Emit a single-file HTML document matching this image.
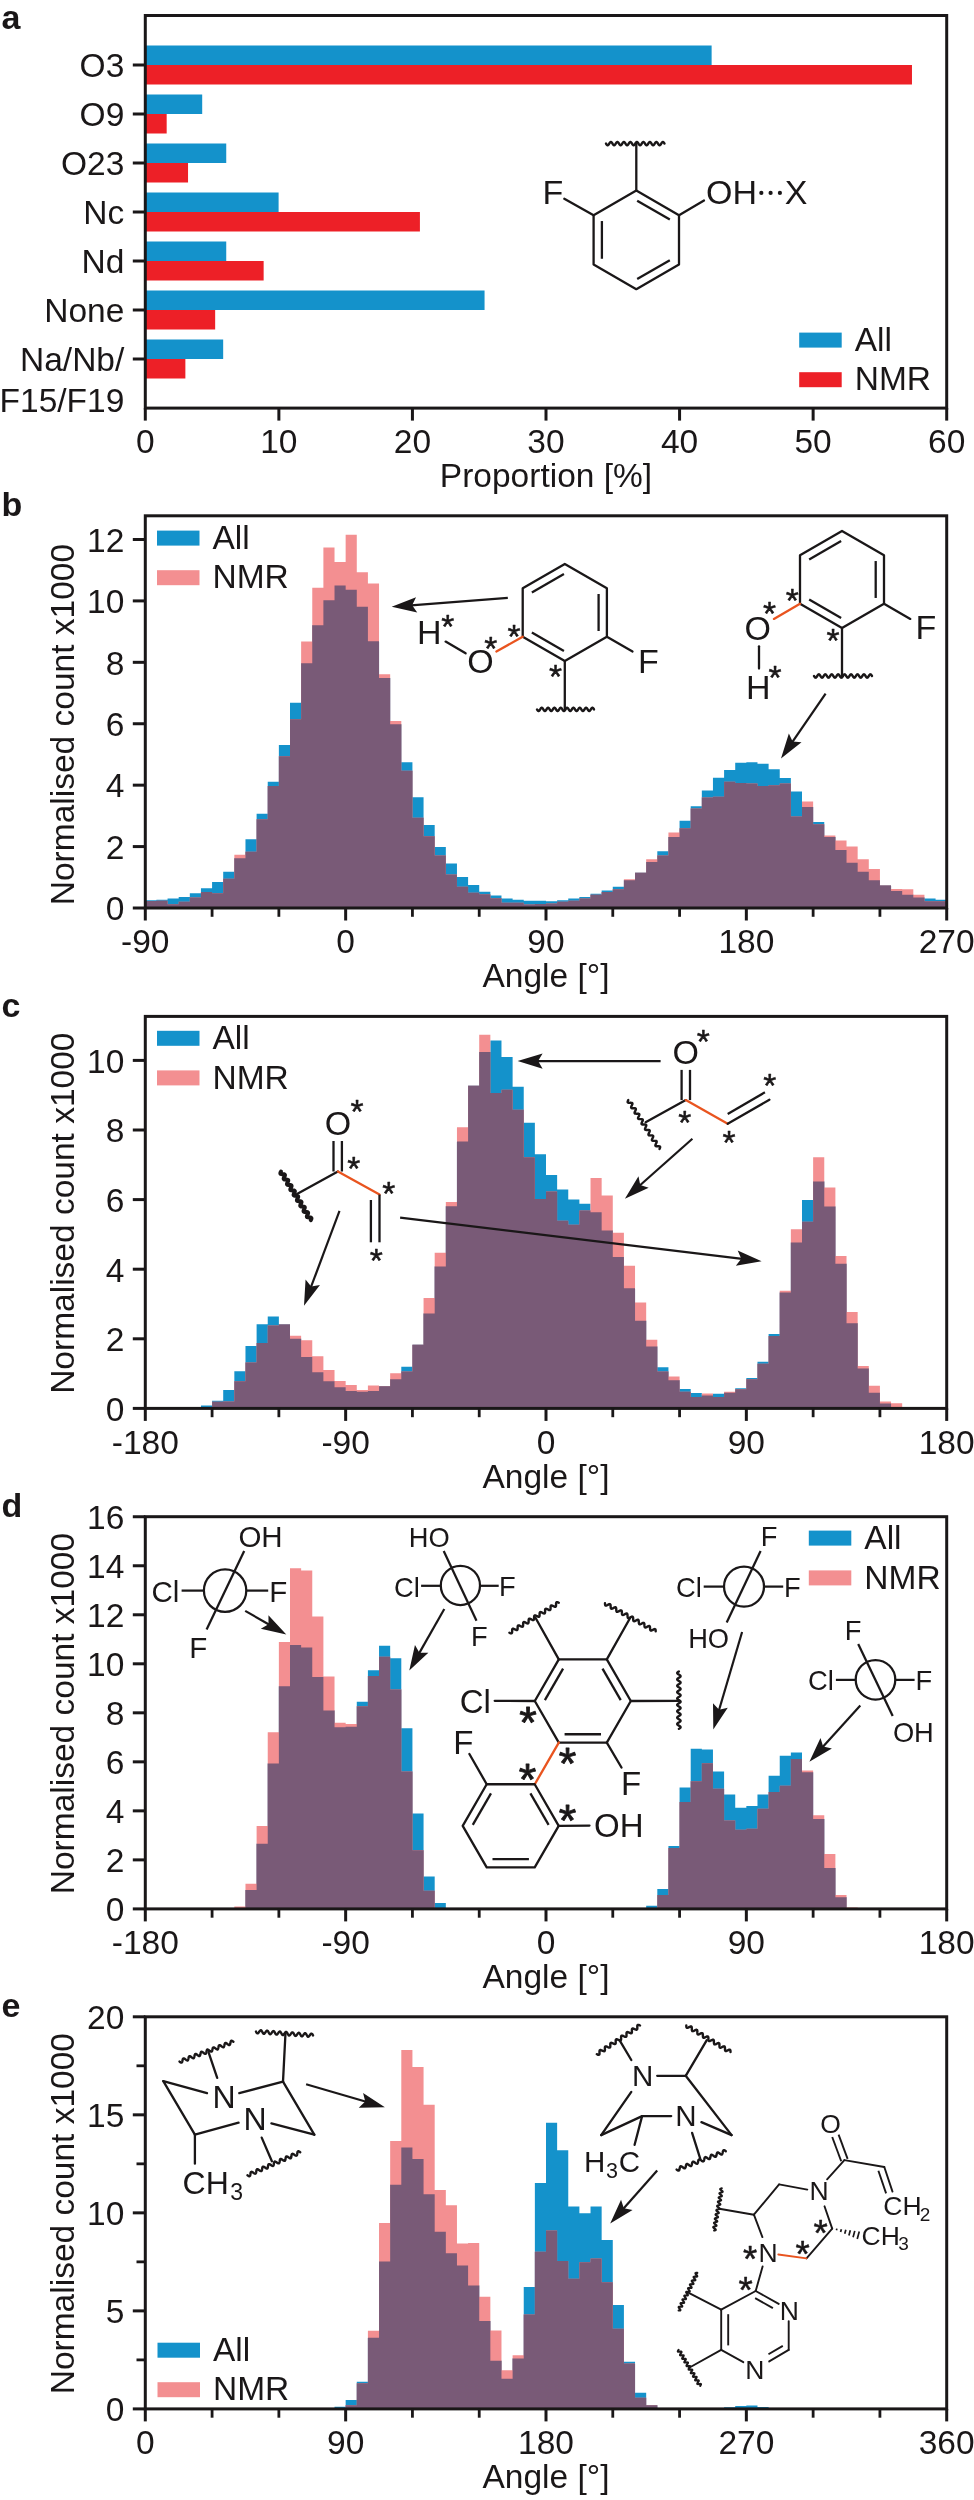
<!DOCTYPE html>
<html><head><meta charset="utf-8"><title>figure</title>
<style>html,body{margin:0;padding:0;background:#fff}svg{display:block;will-change:transform}text{font-family:"Liberation Sans",sans-serif;fill:#1a1718}</style>
</head><body>
<svg width="974" height="2500" viewBox="0 0 974 2500">
<rect width="974" height="2500" fill="#fff"/>
<rect x="145.3" y="45.50" width="566.32" height="19.5" fill="#1492cb"/>
<rect x="145.3" y="65.00" width="766.67" height="19.5" fill="#ed2027"/>
<rect x="145.3" y="94.50" width="56.90" height="19.5" fill="#1492cb"/>
<rect x="145.3" y="114.00" width="21.37" height="19.5" fill="#ed2027"/>
<rect x="145.3" y="143.50" width="80.94" height="19.5" fill="#1492cb"/>
<rect x="145.3" y="163.00" width="42.74" height="19.5" fill="#ed2027"/>
<rect x="145.3" y="192.50" width="133.30" height="19.5" fill="#1492cb"/>
<rect x="145.3" y="212.00" width="274.61" height="19.5" fill="#ed2027"/>
<rect x="145.3" y="241.50" width="80.94" height="19.5" fill="#1492cb"/>
<rect x="145.3" y="261.00" width="118.34" height="19.5" fill="#ed2027"/>
<rect x="145.3" y="290.50" width="339.26" height="19.5" fill="#1492cb"/>
<rect x="145.3" y="310.00" width="69.86" height="19.5" fill="#ed2027"/>
<rect x="145.3" y="339.50" width="77.87" height="19.5" fill="#1492cb"/>
<rect x="145.3" y="359.00" width="40.07" height="19.5" fill="#ed2027"/>
<rect x="145.3" y="15.5" width="801.4000000000001" height="392.6" fill="none" stroke="#1a1718" stroke-width="3.0"/>
<line x1="132.80" y1="65.00" x2="145.30" y2="65.00" stroke="#1a1718" stroke-width="3.0" stroke-linecap="butt"/>
<text x="124.30" y="77.30" font-size="33.5" text-anchor="end" font-weight="normal" >O3</text>
<line x1="132.80" y1="114.00" x2="145.30" y2="114.00" stroke="#1a1718" stroke-width="3.0" stroke-linecap="butt"/>
<text x="124.30" y="126.30" font-size="33.5" text-anchor="end" font-weight="normal" >O9</text>
<line x1="132.80" y1="163.00" x2="145.30" y2="163.00" stroke="#1a1718" stroke-width="3.0" stroke-linecap="butt"/>
<text x="124.30" y="175.30" font-size="33.5" text-anchor="end" font-weight="normal" >O23</text>
<line x1="132.80" y1="212.00" x2="145.30" y2="212.00" stroke="#1a1718" stroke-width="3.0" stroke-linecap="butt"/>
<text x="124.30" y="224.30" font-size="33.5" text-anchor="end" font-weight="normal" >Nc</text>
<line x1="132.80" y1="261.00" x2="145.30" y2="261.00" stroke="#1a1718" stroke-width="3.0" stroke-linecap="butt"/>
<text x="124.30" y="273.30" font-size="33.5" text-anchor="end" font-weight="normal" >Nd</text>
<line x1="132.80" y1="310.00" x2="145.30" y2="310.00" stroke="#1a1718" stroke-width="3.0" stroke-linecap="butt"/>
<text x="124.30" y="322.30" font-size="33.5" text-anchor="end" font-weight="normal" >None</text>
<line x1="132.80" y1="359.00" x2="145.30" y2="359.00" stroke="#1a1718" stroke-width="3.0" stroke-linecap="butt"/>
<text x="124.30" y="371.30" font-size="33.5" text-anchor="end" font-weight="normal" >Na/Nb/</text>
<text x="124.30" y="411.60" font-size="33.5" text-anchor="end" font-weight="normal" >F15/F19</text>
<line x1="145.30" y1="408.10" x2="145.30" y2="420.60" stroke="#1a1718" stroke-width="3.0" stroke-linecap="butt"/>
<text x="145.30" y="453.30" font-size="33.5" text-anchor="middle" font-weight="normal" >0</text>
<line x1="278.87" y1="408.10" x2="278.87" y2="420.60" stroke="#1a1718" stroke-width="3.0" stroke-linecap="butt"/>
<text x="278.87" y="453.30" font-size="33.5" text-anchor="middle" font-weight="normal" >10</text>
<line x1="412.43" y1="408.10" x2="412.43" y2="420.60" stroke="#1a1718" stroke-width="3.0" stroke-linecap="butt"/>
<text x="412.43" y="453.30" font-size="33.5" text-anchor="middle" font-weight="normal" >20</text>
<line x1="546.00" y1="408.10" x2="546.00" y2="420.60" stroke="#1a1718" stroke-width="3.0" stroke-linecap="butt"/>
<text x="546.00" y="453.30" font-size="33.5" text-anchor="middle" font-weight="normal" >30</text>
<line x1="679.57" y1="408.10" x2="679.57" y2="420.60" stroke="#1a1718" stroke-width="3.0" stroke-linecap="butt"/>
<text x="679.57" y="453.30" font-size="33.5" text-anchor="middle" font-weight="normal" >40</text>
<line x1="813.13" y1="408.10" x2="813.13" y2="420.60" stroke="#1a1718" stroke-width="3.0" stroke-linecap="butt"/>
<text x="813.13" y="453.30" font-size="33.5" text-anchor="middle" font-weight="normal" >50</text>
<line x1="946.70" y1="408.10" x2="946.70" y2="420.60" stroke="#1a1718" stroke-width="3.0" stroke-linecap="butt"/>
<text x="946.70" y="453.30" font-size="33.5" text-anchor="middle" font-weight="normal" >60</text>
<text x="546.00" y="487.00" font-size="33.5" text-anchor="middle" font-weight="normal" >Proportion [%]</text>
<text x="1.50" y="28.70" font-size="34" text-anchor="start" font-weight="bold" >a</text>
<rect x="799.2" y="332.6" width="42.5" height="15" fill="#1492cb"/>
<rect x="799.2" y="372.2" width="42.5" height="15" fill="#ed2027"/>
<text x="854.70" y="350.80" font-size="33.5" text-anchor="start" font-weight="normal" >All</text>
<text x="854.70" y="390.40" font-size="33.5" text-anchor="start" font-weight="normal" >NMR</text>
<path d="M145.30,908.00L145.30,900.32L156.43,900.32L156.43,899.71L167.56,899.71L167.56,898.48L178.69,898.48L178.69,896.94L189.82,896.94L189.82,893.26L200.95,893.26L200.95,888.35L212.08,888.35L212.08,881.90L223.21,881.90L223.21,871.76L234.34,871.76L234.34,858.25L245.48,858.25L245.48,839.21L256.61,839.21L256.61,813.72L267.74,813.72L267.74,781.78L278.87,781.78L278.87,744.93L290.00,744.93L290.00,702.86L301.13,702.86L301.13,663.24L312.26,663.24L312.26,625.16L323.39,625.16L323.39,600.29L334.52,600.29L334.52,585.55L345.65,585.55L345.65,589.84L356.78,589.84L356.78,606.73L367.91,606.73L367.91,641.13L379.04,641.13L379.04,677.98L390.17,677.98L390.17,724.35L401.30,724.35L401.30,762.13L412.43,762.13L412.43,797.14L423.56,797.14L423.56,825.08L434.69,825.08L434.69,846.89L445.83,846.89L445.83,863.47L456.96,863.47L456.96,876.98L468.09,876.98L468.09,884.97L479.22,884.97L479.22,891.72L490.35,891.72L490.35,895.41L501.48,895.41L501.48,898.48L512.61,898.48L512.61,899.71L523.74,899.71L523.74,900.63L534.87,900.63L534.87,900.63L546.00,900.63L546.00,901.24L557.13,901.24L557.13,900.32L568.26,900.32L568.26,898.48L579.39,898.48L579.39,896.94L590.52,896.94L590.52,893.87L601.65,893.87L601.65,890.50L612.78,890.50L612.78,886.81L623.91,886.81L623.91,880.36L635.04,880.36L635.04,872.68L646.18,872.68L646.18,861.93L657.31,861.93L657.31,851.19L668.44,851.19L668.44,837.06L679.57,837.06L679.57,820.78L690.70,820.78L690.70,806.35L701.83,806.35L701.83,790.38L712.96,790.38L712.96,777.79L724.09,777.79L724.09,770.11L735.22,770.11L735.22,762.74L746.35,762.74L746.35,762.13L757.48,762.13L757.48,763.66L768.61,763.66L768.61,769.19L779.74,769.19L779.74,778.10L790.87,778.10L790.87,791.61L802.00,791.61L802.00,806.96L813.13,806.96L813.13,822.01L824.26,822.01L824.26,837.06L835.39,837.06L835.39,849.96L846.53,849.96L846.53,862.86L857.66,862.86L857.66,871.76L868.79,871.76L868.79,880.36L879.92,880.36L879.92,885.58L891.05,885.58L891.05,891.11L902.18,891.11L902.18,894.79L913.31,894.79L913.31,897.56L924.44,897.56L924.44,898.48L935.57,898.48L935.57,899.71L946.70,899.71L946.70,908.00Z" fill="#1492cb" fill-opacity="1"/>
<path d="M145.30,908.00L145.30,900.94L156.43,900.94L156.43,900.63L167.56,900.63L167.56,904.31L178.69,904.31L178.69,901.86L189.82,901.86L189.82,897.56L200.95,897.56L200.95,892.03L212.08,892.03L212.08,893.26L223.21,893.26L223.21,878.83L234.34,878.83L234.34,854.87L245.48,854.87L245.48,851.80L256.61,851.80L256.61,819.25L267.74,819.25L267.74,786.08L278.87,786.08L278.87,756.29L290.00,756.29L290.00,719.13L301.13,719.13L301.13,641.44L312.26,641.44L312.26,587.69L323.39,587.69L323.39,547.46L334.52,547.46L334.52,561.90L345.65,561.90L345.65,534.87L356.78,534.87L356.78,572.34L367.91,572.34L367.91,583.40L379.04,583.40L379.04,674.30L390.17,674.30L390.17,720.98L401.30,720.98L401.30,770.73L412.43,770.73L412.43,817.71L423.56,817.71L423.56,836.14L434.69,836.14L434.69,855.49L445.83,855.49L445.83,874.53L456.96,874.53L456.96,886.81L468.09,886.81L468.09,892.64L479.22,892.64L479.22,894.18L490.35,894.18L490.35,898.17L501.48,898.17L501.48,902.78L512.61,902.78L512.61,902.78L523.74,902.78L523.74,904.62L534.87,904.62L534.87,904.01L546.00,904.01L546.00,903.39L557.13,903.39L557.13,901.86L568.26,901.86L568.26,900.63L579.39,900.63L579.39,898.48L590.52,898.48L590.52,894.79L601.65,894.79L601.65,892.03L612.78,892.03L612.78,889.27L623.91,889.27L623.91,879.13L635.04,879.13L635.04,872.68L646.18,872.68L646.18,859.17L657.31,859.17L657.31,855.49L668.44,855.49L668.44,832.45L679.57,832.45L679.57,828.15L690.70,828.15L690.70,808.50L701.83,808.50L701.83,797.44L712.96,797.44L712.96,796.83L724.09,796.83L724.09,781.78L735.22,781.78L735.22,783.01L746.35,783.01L746.35,783.62L757.48,783.62L757.48,786.08L768.61,786.08L768.61,785.16L779.74,785.16L779.74,783.62L790.87,783.62L790.87,816.48L802.00,816.48L802.00,801.44L813.13,801.44L813.13,824.16L824.26,824.16L824.26,835.52L835.39,835.52L835.39,840.44L846.53,840.44L846.53,846.58L857.66,846.58L857.66,859.17L868.79,859.17L868.79,869.00L879.92,869.00L879.92,885.58L891.05,885.58L891.05,888.96L902.18,888.96L902.18,889.27L913.31,889.27L913.31,894.79L924.44,894.79L924.44,901.24L935.57,901.24L935.57,901.24L946.70,901.24L946.70,908.00Z" fill="#f38f91" fill-opacity="1"/>
<path d="M145.30,908.00L145.30,900.94L156.43,900.94L156.43,900.63L167.56,900.63L167.56,904.31L178.69,904.31L178.69,901.86L189.82,901.86L189.82,897.56L200.95,897.56L200.95,892.03L212.08,892.03L212.08,893.26L223.21,893.26L223.21,878.83L234.34,878.83L234.34,858.25L245.48,858.25L245.48,851.80L256.61,851.80L256.61,819.25L267.74,819.25L267.74,786.08L278.87,786.08L278.87,756.29L290.00,756.29L290.00,719.13L301.13,719.13L301.13,663.24L312.26,663.24L312.26,625.16L323.39,625.16L323.39,600.29L334.52,600.29L334.52,585.55L345.65,585.55L345.65,589.84L356.78,589.84L356.78,606.73L367.91,606.73L367.91,641.13L379.04,641.13L379.04,677.98L390.17,677.98L390.17,724.35L401.30,724.35L401.30,770.73L412.43,770.73L412.43,817.71L423.56,817.71L423.56,836.14L434.69,836.14L434.69,855.49L445.83,855.49L445.83,874.53L456.96,874.53L456.96,886.81L468.09,886.81L468.09,892.64L479.22,892.64L479.22,894.18L490.35,894.18L490.35,898.17L501.48,898.17L501.48,902.78L512.61,902.78L512.61,902.78L523.74,902.78L523.74,904.62L534.87,904.62L534.87,904.01L546.00,904.01L546.00,903.39L557.13,903.39L557.13,901.86L568.26,901.86L568.26,900.63L579.39,900.63L579.39,898.48L590.52,898.48L590.52,894.79L601.65,894.79L601.65,892.03L612.78,892.03L612.78,889.27L623.91,889.27L623.91,880.36L635.04,880.36L635.04,872.68L646.18,872.68L646.18,861.93L657.31,861.93L657.31,855.49L668.44,855.49L668.44,837.06L679.57,837.06L679.57,828.15L690.70,828.15L690.70,808.50L701.83,808.50L701.83,797.44L712.96,797.44L712.96,796.83L724.09,796.83L724.09,781.78L735.22,781.78L735.22,783.01L746.35,783.01L746.35,783.62L757.48,783.62L757.48,786.08L768.61,786.08L768.61,785.16L779.74,785.16L779.74,783.62L790.87,783.62L790.87,816.48L802.00,816.48L802.00,806.96L813.13,806.96L813.13,824.16L824.26,824.16L824.26,837.06L835.39,837.06L835.39,849.96L846.53,849.96L846.53,862.86L857.66,862.86L857.66,871.76L868.79,871.76L868.79,880.36L879.92,880.36L879.92,885.58L891.05,885.58L891.05,891.11L902.18,891.11L902.18,894.79L913.31,894.79L913.31,897.56L924.44,897.56L924.44,901.24L935.57,901.24L935.57,901.24L946.70,901.24L946.70,908.00Z" fill="#795a77" fill-opacity="1"/>
<rect x="145.3" y="515.8" width="801.4000000000001" height="392.20000000000005" fill="none" stroke="#1a1718" stroke-width="3.0"/>
<line x1="132.80" y1="908.00" x2="145.30" y2="908.00" stroke="#1a1718" stroke-width="3.0" stroke-linecap="butt"/>
<text x="124.30" y="920.30" font-size="33.5" text-anchor="end" font-weight="normal" >0</text>
<line x1="132.80" y1="846.58" x2="145.30" y2="846.58" stroke="#1a1718" stroke-width="3.0" stroke-linecap="butt"/>
<text x="124.30" y="858.88" font-size="33.5" text-anchor="end" font-weight="normal" >2</text>
<line x1="132.80" y1="785.16" x2="145.30" y2="785.16" stroke="#1a1718" stroke-width="3.0" stroke-linecap="butt"/>
<text x="124.30" y="797.46" font-size="33.5" text-anchor="end" font-weight="normal" >4</text>
<line x1="132.80" y1="723.74" x2="145.30" y2="723.74" stroke="#1a1718" stroke-width="3.0" stroke-linecap="butt"/>
<text x="124.30" y="736.04" font-size="33.5" text-anchor="end" font-weight="normal" >6</text>
<line x1="132.80" y1="662.32" x2="145.30" y2="662.32" stroke="#1a1718" stroke-width="3.0" stroke-linecap="butt"/>
<text x="124.30" y="674.62" font-size="33.5" text-anchor="end" font-weight="normal" >8</text>
<line x1="132.80" y1="600.90" x2="145.30" y2="600.90" stroke="#1a1718" stroke-width="3.0" stroke-linecap="butt"/>
<text x="124.30" y="613.20" font-size="33.5" text-anchor="end" font-weight="normal" >10</text>
<line x1="132.80" y1="539.48" x2="145.30" y2="539.48" stroke="#1a1718" stroke-width="3.0" stroke-linecap="butt"/>
<text x="124.30" y="551.78" font-size="33.5" text-anchor="end" font-weight="normal" >12</text>
<line x1="145.30" y1="908.00" x2="145.30" y2="920.50" stroke="#1a1718" stroke-width="3.0" stroke-linecap="butt"/>
<text x="145.30" y="953.20" font-size="33.5" text-anchor="middle" font-weight="normal" >-90</text>
<line x1="345.65" y1="908.00" x2="345.65" y2="920.50" stroke="#1a1718" stroke-width="3.0" stroke-linecap="butt"/>
<text x="345.65" y="953.20" font-size="33.5" text-anchor="middle" font-weight="normal" >0</text>
<line x1="546.00" y1="908.00" x2="546.00" y2="920.50" stroke="#1a1718" stroke-width="3.0" stroke-linecap="butt"/>
<text x="546.00" y="953.20" font-size="33.5" text-anchor="middle" font-weight="normal" >90</text>
<line x1="746.35" y1="908.00" x2="746.35" y2="920.50" stroke="#1a1718" stroke-width="3.0" stroke-linecap="butt"/>
<text x="746.35" y="953.20" font-size="33.5" text-anchor="middle" font-weight="normal" >180</text>
<line x1="946.70" y1="908.00" x2="946.70" y2="920.50" stroke="#1a1718" stroke-width="3.0" stroke-linecap="butt"/>
<text x="946.70" y="953.20" font-size="33.5" text-anchor="middle" font-weight="normal" >270</text>
<line x1="212.08" y1="908.00" x2="212.08" y2="916.80" stroke="#1a1718" stroke-width="2.8" stroke-linecap="butt"/>
<line x1="278.87" y1="908.00" x2="278.87" y2="916.80" stroke="#1a1718" stroke-width="2.8" stroke-linecap="butt"/>
<line x1="412.43" y1="908.00" x2="412.43" y2="916.80" stroke="#1a1718" stroke-width="2.8" stroke-linecap="butt"/>
<line x1="479.22" y1="908.00" x2="479.22" y2="916.80" stroke="#1a1718" stroke-width="2.8" stroke-linecap="butt"/>
<line x1="612.78" y1="908.00" x2="612.78" y2="916.80" stroke="#1a1718" stroke-width="2.8" stroke-linecap="butt"/>
<line x1="679.57" y1="908.00" x2="679.57" y2="916.80" stroke="#1a1718" stroke-width="2.8" stroke-linecap="butt"/>
<line x1="813.13" y1="908.00" x2="813.13" y2="916.80" stroke="#1a1718" stroke-width="2.8" stroke-linecap="butt"/>
<line x1="879.92" y1="908.00" x2="879.92" y2="916.80" stroke="#1a1718" stroke-width="2.8" stroke-linecap="butt"/>
<text x="546.00" y="987.20" font-size="33.5" text-anchor="middle" font-weight="normal" >Angle [°]</text>
<text x="0.00" y="0.00" font-size="33.5" text-anchor="middle" font-weight="normal" transform="translate(74,724.6) rotate(-90)">Normalised count x1000</text>
<text x="1.50" y="516.00" font-size="34" text-anchor="start" font-weight="bold" >b</text>
<rect x="157" y="530.6" width="42.5" height="15" fill="#1492cb"/>
<rect x="157" y="570.2" width="42.5" height="15" fill="#f38f91"/>
<text x="212.50" y="548.80" font-size="33.5" text-anchor="start" font-weight="normal" >All</text>
<text x="212.50" y="588.40" font-size="33.5" text-anchor="start" font-weight="normal" >NMR</text>
<path d="M145.30,1408.40L145.30,1408.40L156.43,1408.40L156.43,1408.40L167.56,1408.40L167.56,1408.40L178.69,1408.40L178.69,1408.40L189.82,1408.40L189.82,1408.40L200.95,1408.40L200.95,1405.62L212.08,1405.62L212.08,1400.74L223.21,1400.74L223.21,1389.96L234.34,1389.96L234.34,1371.16L245.48,1371.16L245.48,1346.11L256.61,1346.11L256.61,1324.18L267.74,1324.18L267.74,1316.53L278.87,1316.53L278.87,1324.18L290.00,1324.18L290.00,1338.80L301.13,1338.80L301.13,1356.90L312.26,1356.90L312.26,1372.21L323.39,1372.21L323.39,1381.26L334.52,1381.26L334.52,1387.17L345.65,1387.17L345.65,1391.00L356.78,1391.00L356.78,1391.70L367.91,1391.70L367.91,1391.00L379.04,1391.00L379.04,1386.13L390.17,1386.13L390.17,1379.17L401.30,1379.17L401.30,1366.64L412.43,1366.64L412.43,1344.72L423.56,1344.72L423.56,1313.40L434.69,1313.40L434.69,1266.42L445.83,1266.42L445.83,1206.21L456.96,1206.21L456.96,1141.48L468.09,1141.48L468.09,1085.80L479.22,1085.80L479.22,1052.05L490.35,1052.05L490.35,1040.56L501.48,1040.56L501.48,1056.92L512.61,1056.92L512.61,1086.85L523.74,1086.85L523.74,1122.69L534.87,1122.69L534.87,1154.36L546.00,1154.36L546.00,1174.89L557.13,1174.89L557.13,1189.51L568.26,1189.51L568.26,1199.60L579.39,1199.60L579.39,1203.78L590.52,1203.78L590.52,1212.13L601.65,1212.13L601.65,1230.57L612.78,1230.57L612.78,1257.02L623.91,1257.02L623.91,1288.34L635.04,1288.34L635.04,1320.70L646.18,1320.70L646.18,1346.46L657.31,1346.46L657.31,1367.34L668.44,1367.34L668.44,1380.21L679.57,1380.21L679.57,1388.91L690.70,1388.91L690.70,1393.09L701.83,1393.09L701.83,1395.52L712.96,1395.52L712.96,1393.78L724.09,1393.78L724.09,1392.74L735.22,1392.74L735.22,1388.22L746.35,1388.22L746.35,1378.12L757.48,1378.12L757.48,1361.77L768.61,1361.77L768.61,1333.93L779.74,1333.93L779.74,1292.52L790.87,1292.52L790.87,1242.40L802.00,1242.40L802.00,1199.95L813.13,1199.95L813.13,1181.50L824.26,1181.50L824.26,1206.56L835.39,1206.56L835.39,1263.63L846.53,1263.63L846.53,1323.14L857.66,1323.14L857.66,1368.38L868.79,1368.38L868.79,1392.74L879.92,1392.74L879.92,1403.53L891.05,1403.53L891.05,1407.70L902.18,1407.70L902.18,1408.40L913.31,1408.40L913.31,1408.40L924.44,1408.40L924.44,1408.40L935.57,1408.40L935.57,1408.40L946.70,1408.40L946.70,1408.40Z" fill="#1492cb" fill-opacity="1"/>
<path d="M145.30,1408.40L145.30,1408.40L156.43,1408.40L156.43,1408.40L167.56,1408.40L167.56,1408.40L178.69,1408.40L178.69,1408.40L189.82,1408.40L189.82,1408.40L200.95,1408.40L200.95,1408.40L212.08,1408.40L212.08,1401.79L223.21,1401.79L223.21,1401.44L234.34,1401.44L234.34,1381.26L245.48,1381.26L245.48,1362.46L256.61,1362.46L256.61,1342.98L267.74,1342.98L267.74,1325.58L278.87,1325.58L278.87,1324.53L290.00,1324.53L290.00,1335.67L301.13,1335.67L301.13,1340.19L312.26,1340.19L312.26,1356.20L323.39,1356.20L323.39,1370.12L334.52,1370.12L334.52,1380.91L345.65,1380.91L345.65,1385.08L356.78,1385.08L356.78,1389.96L367.91,1389.96L367.91,1385.43L379.04,1385.43L379.04,1386.13L390.17,1386.13L390.17,1373.25L401.30,1373.25L401.30,1371.51L412.43,1371.51L412.43,1344.72L423.56,1344.72L423.56,1298.08L434.69,1298.08L434.69,1252.84L445.83,1252.84L445.83,1202.04L456.96,1202.04L456.96,1127.22L468.09,1127.22L468.09,1085.80L479.22,1085.80L479.22,1034.65L490.35,1034.65L490.35,1093.11L501.48,1093.11L501.48,1089.63L512.61,1089.63L512.61,1109.82L523.74,1109.82L523.74,1157.14L534.87,1157.14L534.87,1198.90L546.00,1198.90L546.00,1191.60L557.13,1191.60L557.13,1220.83L568.26,1220.83L568.26,1224.66L579.39,1224.66L579.39,1210.39L590.52,1210.39L590.52,1178.02L601.65,1178.02L601.65,1195.42L612.78,1195.42L612.78,1232.66L623.91,1232.66L623.91,1265.72L635.04,1265.72L635.04,1302.61L646.18,1302.61L646.18,1339.84L657.31,1339.84L657.31,1371.51L668.44,1371.51L668.44,1376.38L679.57,1376.38L679.57,1391.70L690.70,1391.70L690.70,1396.92L701.83,1396.92L701.83,1393.44L712.96,1393.44L712.96,1396.92L724.09,1396.92L724.09,1391.70L735.22,1391.70L735.22,1389.26L746.35,1389.26L746.35,1379.17L757.48,1379.17L757.48,1363.86L768.61,1363.86L768.61,1336.02L779.74,1336.02L779.74,1290.78L790.87,1290.78L790.87,1229.18L802.00,1229.18L802.00,1221.87L813.13,1221.87L813.13,1157.14L824.26,1157.14L824.26,1187.42L835.39,1187.42L835.39,1255.98L846.53,1255.98L846.53,1312.00L857.66,1312.00L857.66,1365.94L868.79,1365.94L868.79,1385.78L879.92,1385.78L879.92,1401.44L891.05,1401.44L891.05,1403.18L902.18,1403.18L902.18,1408.40L913.31,1408.40L913.31,1408.40L924.44,1408.40L924.44,1408.40L935.57,1408.40L935.57,1408.40L946.70,1408.40L946.70,1408.40Z" fill="#f38f91" fill-opacity="1"/>
<path d="M145.30,1408.40L145.30,1408.40L156.43,1408.40L156.43,1408.40L167.56,1408.40L167.56,1408.40L178.69,1408.40L178.69,1408.40L189.82,1408.40L189.82,1408.40L200.95,1408.40L200.95,1408.40L212.08,1408.40L212.08,1401.79L223.21,1401.79L223.21,1401.44L234.34,1401.44L234.34,1381.26L245.48,1381.26L245.48,1362.46L256.61,1362.46L256.61,1342.98L267.74,1342.98L267.74,1325.58L278.87,1325.58L278.87,1324.53L290.00,1324.53L290.00,1338.80L301.13,1338.80L301.13,1356.90L312.26,1356.90L312.26,1372.21L323.39,1372.21L323.39,1381.26L334.52,1381.26L334.52,1387.17L345.65,1387.17L345.65,1391.00L356.78,1391.00L356.78,1391.70L367.91,1391.70L367.91,1391.00L379.04,1391.00L379.04,1386.13L390.17,1386.13L390.17,1379.17L401.30,1379.17L401.30,1371.51L412.43,1371.51L412.43,1344.72L423.56,1344.72L423.56,1313.40L434.69,1313.40L434.69,1266.42L445.83,1266.42L445.83,1206.21L456.96,1206.21L456.96,1141.48L468.09,1141.48L468.09,1085.80L479.22,1085.80L479.22,1052.05L490.35,1052.05L490.35,1093.11L501.48,1093.11L501.48,1089.63L512.61,1089.63L512.61,1109.82L523.74,1109.82L523.74,1157.14L534.87,1157.14L534.87,1198.90L546.00,1198.90L546.00,1191.60L557.13,1191.60L557.13,1220.83L568.26,1220.83L568.26,1224.66L579.39,1224.66L579.39,1210.39L590.52,1210.39L590.52,1212.13L601.65,1212.13L601.65,1230.57L612.78,1230.57L612.78,1257.02L623.91,1257.02L623.91,1288.34L635.04,1288.34L635.04,1320.70L646.18,1320.70L646.18,1346.46L657.31,1346.46L657.31,1371.51L668.44,1371.51L668.44,1380.21L679.57,1380.21L679.57,1391.70L690.70,1391.70L690.70,1396.92L701.83,1396.92L701.83,1395.52L712.96,1395.52L712.96,1396.92L724.09,1396.92L724.09,1392.74L735.22,1392.74L735.22,1389.26L746.35,1389.26L746.35,1379.17L757.48,1379.17L757.48,1363.86L768.61,1363.86L768.61,1336.02L779.74,1336.02L779.74,1292.52L790.87,1292.52L790.87,1242.40L802.00,1242.40L802.00,1221.87L813.13,1221.87L813.13,1181.50L824.26,1181.50L824.26,1206.56L835.39,1206.56L835.39,1263.63L846.53,1263.63L846.53,1323.14L857.66,1323.14L857.66,1368.38L868.79,1368.38L868.79,1392.74L879.92,1392.74L879.92,1403.53L891.05,1403.53L891.05,1407.70L902.18,1407.70L902.18,1408.40L913.31,1408.40L913.31,1408.40L924.44,1408.40L924.44,1408.40L935.57,1408.40L935.57,1408.40L946.70,1408.40L946.70,1408.40Z" fill="#795a77" fill-opacity="1"/>
<rect x="145.3" y="1016.4" width="801.4000000000001" height="392.0000000000001" fill="none" stroke="#1a1718" stroke-width="3.0"/>
<line x1="132.80" y1="1408.40" x2="145.30" y2="1408.40" stroke="#1a1718" stroke-width="3.0" stroke-linecap="butt"/>
<text x="124.30" y="1420.70" font-size="33.5" text-anchor="end" font-weight="normal" >0</text>
<line x1="132.80" y1="1338.80" x2="145.30" y2="1338.80" stroke="#1a1718" stroke-width="3.0" stroke-linecap="butt"/>
<text x="124.30" y="1351.10" font-size="33.5" text-anchor="end" font-weight="normal" >2</text>
<line x1="132.80" y1="1269.20" x2="145.30" y2="1269.20" stroke="#1a1718" stroke-width="3.0" stroke-linecap="butt"/>
<text x="124.30" y="1281.50" font-size="33.5" text-anchor="end" font-weight="normal" >4</text>
<line x1="132.80" y1="1199.60" x2="145.30" y2="1199.60" stroke="#1a1718" stroke-width="3.0" stroke-linecap="butt"/>
<text x="124.30" y="1211.90" font-size="33.5" text-anchor="end" font-weight="normal" >6</text>
<line x1="132.80" y1="1130.00" x2="145.30" y2="1130.00" stroke="#1a1718" stroke-width="3.0" stroke-linecap="butt"/>
<text x="124.30" y="1142.30" font-size="33.5" text-anchor="end" font-weight="normal" >8</text>
<line x1="132.80" y1="1060.40" x2="145.30" y2="1060.40" stroke="#1a1718" stroke-width="3.0" stroke-linecap="butt"/>
<text x="124.30" y="1072.70" font-size="33.5" text-anchor="end" font-weight="normal" >10</text>
<line x1="145.30" y1="1408.40" x2="145.30" y2="1420.90" stroke="#1a1718" stroke-width="3.0" stroke-linecap="butt"/>
<text x="145.30" y="1453.60" font-size="33.5" text-anchor="middle" font-weight="normal" >-180</text>
<line x1="345.65" y1="1408.40" x2="345.65" y2="1420.90" stroke="#1a1718" stroke-width="3.0" stroke-linecap="butt"/>
<text x="345.65" y="1453.60" font-size="33.5" text-anchor="middle" font-weight="normal" >-90</text>
<line x1="546.00" y1="1408.40" x2="546.00" y2="1420.90" stroke="#1a1718" stroke-width="3.0" stroke-linecap="butt"/>
<text x="546.00" y="1453.60" font-size="33.5" text-anchor="middle" font-weight="normal" >0</text>
<line x1="746.35" y1="1408.40" x2="746.35" y2="1420.90" stroke="#1a1718" stroke-width="3.0" stroke-linecap="butt"/>
<text x="746.35" y="1453.60" font-size="33.5" text-anchor="middle" font-weight="normal" >90</text>
<line x1="946.70" y1="1408.40" x2="946.70" y2="1420.90" stroke="#1a1718" stroke-width="3.0" stroke-linecap="butt"/>
<text x="946.70" y="1453.60" font-size="33.5" text-anchor="middle" font-weight="normal" >180</text>
<line x1="212.08" y1="1408.40" x2="212.08" y2="1417.20" stroke="#1a1718" stroke-width="2.8" stroke-linecap="butt"/>
<line x1="278.87" y1="1408.40" x2="278.87" y2="1417.20" stroke="#1a1718" stroke-width="2.8" stroke-linecap="butt"/>
<line x1="412.43" y1="1408.40" x2="412.43" y2="1417.20" stroke="#1a1718" stroke-width="2.8" stroke-linecap="butt"/>
<line x1="479.22" y1="1408.40" x2="479.22" y2="1417.20" stroke="#1a1718" stroke-width="2.8" stroke-linecap="butt"/>
<line x1="612.78" y1="1408.40" x2="612.78" y2="1417.20" stroke="#1a1718" stroke-width="2.8" stroke-linecap="butt"/>
<line x1="679.57" y1="1408.40" x2="679.57" y2="1417.20" stroke="#1a1718" stroke-width="2.8" stroke-linecap="butt"/>
<line x1="813.13" y1="1408.40" x2="813.13" y2="1417.20" stroke="#1a1718" stroke-width="2.8" stroke-linecap="butt"/>
<line x1="879.92" y1="1408.40" x2="879.92" y2="1417.20" stroke="#1a1718" stroke-width="2.8" stroke-linecap="butt"/>
<text x="546.00" y="1487.60" font-size="33.5" text-anchor="middle" font-weight="normal" >Angle [°]</text>
<text x="0.00" y="0.00" font-size="33.5" text-anchor="middle" font-weight="normal" transform="translate(74,1213.2) rotate(-90)">Normalised count x1000</text>
<text x="1.50" y="1016.60" font-size="34" text-anchor="start" font-weight="bold" >c</text>
<rect x="157" y="1030.8" width="42.5" height="15" fill="#1492cb"/>
<rect x="157" y="1070.4" width="42.5" height="15" fill="#f38f91"/>
<text x="212.50" y="1049.00" font-size="33.5" text-anchor="start" font-weight="normal" >All</text>
<text x="212.50" y="1088.60" font-size="33.5" text-anchor="start" font-weight="normal" >NMR</text>
<path d="M145.30,1908.90L145.30,1908.90L156.43,1908.90L156.43,1908.90L167.56,1908.90L167.56,1908.90L178.69,1908.90L178.69,1908.90L189.82,1908.90L189.82,1908.90L200.95,1908.90L200.95,1908.90L212.08,1908.90L212.08,1908.90L223.21,1908.90L223.21,1908.90L234.34,1908.90L234.34,1908.16L245.48,1908.16L245.48,1890.03L256.61,1890.03L256.61,1843.70L267.74,1843.70L267.74,1763.56L278.87,1763.56L278.87,1686.35L290.00,1686.35L290.00,1644.93L301.13,1644.93L301.13,1647.38L312.26,1647.38L312.26,1677.04L323.39,1677.04L323.39,1710.61L334.52,1710.61L334.52,1727.28L345.65,1727.28L345.65,1726.79L356.78,1726.79L356.78,1701.79L367.91,1701.79L367.91,1670.17L379.04,1670.17L379.04,1645.66L390.17,1645.66L390.17,1658.16L401.30,1658.16L401.30,1728.26L412.43,1728.26L412.43,1813.56L423.56,1813.56L423.56,1876.55L434.69,1876.55L434.69,1903.02L445.83,1903.02L445.83,1908.90L456.96,1908.90L456.96,1908.90L468.09,1908.90L468.09,1908.90L479.22,1908.90L479.22,1908.90L490.35,1908.90L490.35,1908.90L501.48,1908.90L501.48,1908.90L512.61,1908.90L512.61,1908.90L523.74,1908.90L523.74,1908.90L534.87,1908.90L534.87,1908.90L546.00,1908.90L546.00,1908.90L557.13,1908.90L557.13,1908.90L568.26,1908.90L568.26,1908.90L579.39,1908.90L579.39,1908.90L590.52,1908.90L590.52,1908.90L601.65,1908.90L601.65,1908.90L612.78,1908.90L612.78,1908.90L623.91,1908.90L623.91,1908.90L635.04,1908.90L635.04,1908.90L646.18,1908.90L646.18,1905.71L657.31,1905.71L657.31,1889.05L668.44,1889.05L668.44,1845.91L679.57,1845.91L679.57,1787.58L690.70,1787.58L690.70,1748.85L701.83,1748.85L701.83,1749.59L712.96,1749.59L712.96,1771.40L724.09,1771.40L724.09,1794.44L735.22,1794.44L735.22,1807.67L746.35,1807.67L746.35,1805.96L757.48,1805.96L757.48,1794.44L768.61,1794.44L768.61,1775.81L779.74,1775.81L779.74,1755.71L790.87,1755.71L790.87,1752.53L802.00,1752.53L802.00,1772.13L813.13,1772.13L813.13,1818.95L824.26,1818.95L824.26,1867.97L835.39,1867.97L835.39,1897.14L846.53,1897.14L846.53,1908.41L857.66,1908.41L857.66,1908.90L868.79,1908.90L868.79,1908.90L879.92,1908.90L879.92,1908.90L891.05,1908.90L891.05,1908.90L902.18,1908.90L902.18,1908.90L913.31,1908.90L913.31,1908.90L924.44,1908.90L924.44,1908.90L935.57,1908.90L935.57,1908.90L946.70,1908.90L946.70,1908.90Z" fill="#1492cb" fill-opacity="1"/>
<path d="M145.30,1908.90L145.30,1908.90L156.43,1908.90L156.43,1908.90L167.56,1908.90L167.56,1908.90L178.69,1908.90L178.69,1908.90L189.82,1908.90L189.82,1908.90L200.95,1908.90L200.95,1908.90L212.08,1908.90L212.08,1908.90L223.21,1908.90L223.21,1908.90L234.34,1908.90L234.34,1906.45L245.48,1906.45L245.48,1883.65L256.61,1883.65L256.61,1826.06L267.74,1826.06L267.74,1732.18L278.87,1732.18L278.87,1641.99L290.00,1641.99L290.00,1568.21L301.13,1568.21L301.13,1570.42L312.26,1570.42L312.26,1616.50L323.39,1616.50L323.39,1676.55L334.52,1676.55L334.52,1722.87L345.65,1722.87L345.65,1724.09L356.78,1724.09L356.78,1706.20L367.91,1706.20L367.91,1676.06L379.04,1676.06L379.04,1656.69L390.17,1656.69L390.17,1689.54L401.30,1689.54L401.30,1771.40L412.43,1771.40L412.43,1850.32L423.56,1850.32L423.56,1890.76L434.69,1890.76L434.69,1908.16L445.83,1908.16L445.83,1908.90L456.96,1908.90L456.96,1908.90L468.09,1908.90L468.09,1908.90L479.22,1908.90L479.22,1908.90L490.35,1908.90L490.35,1908.90L501.48,1908.90L501.48,1908.90L512.61,1908.90L512.61,1908.90L523.74,1908.90L523.74,1908.90L534.87,1908.90L534.87,1908.90L546.00,1908.90L546.00,1908.90L557.13,1908.90L557.13,1908.90L568.26,1908.90L568.26,1908.90L579.39,1908.90L579.39,1908.90L590.52,1908.90L590.52,1908.90L601.65,1908.90L601.65,1908.90L612.78,1908.90L612.78,1908.90L623.91,1908.90L623.91,1908.90L635.04,1908.90L635.04,1908.90L646.18,1908.90L646.18,1908.41L657.31,1908.41L657.31,1894.93L668.44,1894.93L668.44,1848.12L679.57,1848.12L679.57,1802.04L690.70,1802.04L690.70,1781.20L701.83,1781.20L701.83,1763.31L712.96,1763.31L712.96,1788.80L724.09,1788.80L724.09,1820.42L735.22,1820.42L735.22,1829.73L746.35,1829.73L746.35,1828.75L757.48,1828.75L757.48,1808.65L768.61,1808.65L768.61,1791.99L779.74,1791.99L779.74,1785.86L790.87,1785.86L790.87,1758.90L802.00,1758.90L802.00,1770.42L813.13,1770.42L813.13,1815.27L824.26,1815.27L824.26,1854.00L835.39,1854.00L835.39,1894.93L846.53,1894.93L846.53,1907.43L857.66,1907.43L857.66,1908.90L868.79,1908.90L868.79,1908.90L879.92,1908.90L879.92,1908.90L891.05,1908.90L891.05,1908.90L902.18,1908.90L902.18,1908.90L913.31,1908.90L913.31,1908.90L924.44,1908.90L924.44,1908.90L935.57,1908.90L935.57,1908.90L946.70,1908.90L946.70,1908.90Z" fill="#f38f91" fill-opacity="1"/>
<path d="M145.30,1908.90L145.30,1908.90L156.43,1908.90L156.43,1908.90L167.56,1908.90L167.56,1908.90L178.69,1908.90L178.69,1908.90L189.82,1908.90L189.82,1908.90L200.95,1908.90L200.95,1908.90L212.08,1908.90L212.08,1908.90L223.21,1908.90L223.21,1908.90L234.34,1908.90L234.34,1908.16L245.48,1908.16L245.48,1890.03L256.61,1890.03L256.61,1843.70L267.74,1843.70L267.74,1763.56L278.87,1763.56L278.87,1686.35L290.00,1686.35L290.00,1644.93L301.13,1644.93L301.13,1647.38L312.26,1647.38L312.26,1677.04L323.39,1677.04L323.39,1710.61L334.52,1710.61L334.52,1727.28L345.65,1727.28L345.65,1726.79L356.78,1726.79L356.78,1706.20L367.91,1706.20L367.91,1676.06L379.04,1676.06L379.04,1656.69L390.17,1656.69L390.17,1689.54L401.30,1689.54L401.30,1771.40L412.43,1771.40L412.43,1850.32L423.56,1850.32L423.56,1890.76L434.69,1890.76L434.69,1908.16L445.83,1908.16L445.83,1908.90L456.96,1908.90L456.96,1908.90L468.09,1908.90L468.09,1908.90L479.22,1908.90L479.22,1908.90L490.35,1908.90L490.35,1908.90L501.48,1908.90L501.48,1908.90L512.61,1908.90L512.61,1908.90L523.74,1908.90L523.74,1908.90L534.87,1908.90L534.87,1908.90L546.00,1908.90L546.00,1908.90L557.13,1908.90L557.13,1908.90L568.26,1908.90L568.26,1908.90L579.39,1908.90L579.39,1908.90L590.52,1908.90L590.52,1908.90L601.65,1908.90L601.65,1908.90L612.78,1908.90L612.78,1908.90L623.91,1908.90L623.91,1908.90L635.04,1908.90L635.04,1908.90L646.18,1908.90L646.18,1908.41L657.31,1908.41L657.31,1894.93L668.44,1894.93L668.44,1848.12L679.57,1848.12L679.57,1802.04L690.70,1802.04L690.70,1781.20L701.83,1781.20L701.83,1763.31L712.96,1763.31L712.96,1788.80L724.09,1788.80L724.09,1820.42L735.22,1820.42L735.22,1829.73L746.35,1829.73L746.35,1828.75L757.48,1828.75L757.48,1808.65L768.61,1808.65L768.61,1791.99L779.74,1791.99L779.74,1785.86L790.87,1785.86L790.87,1758.90L802.00,1758.90L802.00,1772.13L813.13,1772.13L813.13,1818.95L824.26,1818.95L824.26,1867.97L835.39,1867.97L835.39,1897.14L846.53,1897.14L846.53,1908.41L857.66,1908.41L857.66,1908.90L868.79,1908.90L868.79,1908.90L879.92,1908.90L879.92,1908.90L891.05,1908.90L891.05,1908.90L902.18,1908.90L902.18,1908.90L913.31,1908.90L913.31,1908.90L924.44,1908.90L924.44,1908.90L935.57,1908.90L935.57,1908.90L946.70,1908.90L946.70,1908.90Z" fill="#795a77" fill-opacity="1"/>
<rect x="145.3" y="1516.7" width="801.4000000000001" height="392.20000000000005" fill="none" stroke="#1a1718" stroke-width="3.0"/>
<line x1="132.80" y1="1908.90" x2="145.30" y2="1908.90" stroke="#1a1718" stroke-width="3.0" stroke-linecap="butt"/>
<text x="124.30" y="1921.20" font-size="33.5" text-anchor="end" font-weight="normal" >0</text>
<line x1="132.80" y1="1859.88" x2="145.30" y2="1859.88" stroke="#1a1718" stroke-width="3.0" stroke-linecap="butt"/>
<text x="124.30" y="1872.18" font-size="33.5" text-anchor="end" font-weight="normal" >2</text>
<line x1="132.80" y1="1810.86" x2="145.30" y2="1810.86" stroke="#1a1718" stroke-width="3.0" stroke-linecap="butt"/>
<text x="124.30" y="1823.16" font-size="33.5" text-anchor="end" font-weight="normal" >4</text>
<line x1="132.80" y1="1761.84" x2="145.30" y2="1761.84" stroke="#1a1718" stroke-width="3.0" stroke-linecap="butt"/>
<text x="124.30" y="1774.14" font-size="33.5" text-anchor="end" font-weight="normal" >6</text>
<line x1="132.80" y1="1712.82" x2="145.30" y2="1712.82" stroke="#1a1718" stroke-width="3.0" stroke-linecap="butt"/>
<text x="124.30" y="1725.12" font-size="33.5" text-anchor="end" font-weight="normal" >8</text>
<line x1="132.80" y1="1663.80" x2="145.30" y2="1663.80" stroke="#1a1718" stroke-width="3.0" stroke-linecap="butt"/>
<text x="124.30" y="1676.10" font-size="33.5" text-anchor="end" font-weight="normal" >10</text>
<line x1="132.80" y1="1614.78" x2="145.30" y2="1614.78" stroke="#1a1718" stroke-width="3.0" stroke-linecap="butt"/>
<text x="124.30" y="1627.08" font-size="33.5" text-anchor="end" font-weight="normal" >12</text>
<line x1="132.80" y1="1565.76" x2="145.30" y2="1565.76" stroke="#1a1718" stroke-width="3.0" stroke-linecap="butt"/>
<text x="124.30" y="1578.06" font-size="33.5" text-anchor="end" font-weight="normal" >14</text>
<line x1="132.80" y1="1516.74" x2="145.30" y2="1516.74" stroke="#1a1718" stroke-width="3.0" stroke-linecap="butt"/>
<text x="124.30" y="1529.04" font-size="33.5" text-anchor="end" font-weight="normal" >16</text>
<line x1="145.30" y1="1908.90" x2="145.30" y2="1921.40" stroke="#1a1718" stroke-width="3.0" stroke-linecap="butt"/>
<text x="145.30" y="1954.10" font-size="33.5" text-anchor="middle" font-weight="normal" >-180</text>
<line x1="345.65" y1="1908.90" x2="345.65" y2="1921.40" stroke="#1a1718" stroke-width="3.0" stroke-linecap="butt"/>
<text x="345.65" y="1954.10" font-size="33.5" text-anchor="middle" font-weight="normal" >-90</text>
<line x1="546.00" y1="1908.90" x2="546.00" y2="1921.40" stroke="#1a1718" stroke-width="3.0" stroke-linecap="butt"/>
<text x="546.00" y="1954.10" font-size="33.5" text-anchor="middle" font-weight="normal" >0</text>
<line x1="746.35" y1="1908.90" x2="746.35" y2="1921.40" stroke="#1a1718" stroke-width="3.0" stroke-linecap="butt"/>
<text x="746.35" y="1954.10" font-size="33.5" text-anchor="middle" font-weight="normal" >90</text>
<line x1="946.70" y1="1908.90" x2="946.70" y2="1921.40" stroke="#1a1718" stroke-width="3.0" stroke-linecap="butt"/>
<text x="946.70" y="1954.10" font-size="33.5" text-anchor="middle" font-weight="normal" >180</text>
<line x1="212.08" y1="1908.90" x2="212.08" y2="1917.70" stroke="#1a1718" stroke-width="2.8" stroke-linecap="butt"/>
<line x1="278.87" y1="1908.90" x2="278.87" y2="1917.70" stroke="#1a1718" stroke-width="2.8" stroke-linecap="butt"/>
<line x1="412.43" y1="1908.90" x2="412.43" y2="1917.70" stroke="#1a1718" stroke-width="2.8" stroke-linecap="butt"/>
<line x1="479.22" y1="1908.90" x2="479.22" y2="1917.70" stroke="#1a1718" stroke-width="2.8" stroke-linecap="butt"/>
<line x1="612.78" y1="1908.90" x2="612.78" y2="1917.70" stroke="#1a1718" stroke-width="2.8" stroke-linecap="butt"/>
<line x1="679.57" y1="1908.90" x2="679.57" y2="1917.70" stroke="#1a1718" stroke-width="2.8" stroke-linecap="butt"/>
<line x1="813.13" y1="1908.90" x2="813.13" y2="1917.70" stroke="#1a1718" stroke-width="2.8" stroke-linecap="butt"/>
<line x1="879.92" y1="1908.90" x2="879.92" y2="1917.70" stroke="#1a1718" stroke-width="2.8" stroke-linecap="butt"/>
<text x="546.00" y="1988.10" font-size="33.5" text-anchor="middle" font-weight="normal" >Angle [°]</text>
<text x="0.00" y="0.00" font-size="33.5" text-anchor="middle" font-weight="normal" transform="translate(74,1713.6000000000001) rotate(-90)">Normalised count x1000</text>
<text x="1.50" y="1516.90" font-size="34" text-anchor="start" font-weight="bold" >d</text>
<rect x="808.8" y="1530.6" width="42.5" height="15" fill="#1492cb"/>
<rect x="808.8" y="1570.4" width="42.5" height="15" fill="#f38f91"/>
<text x="864.30" y="1548.80" font-size="33.5" text-anchor="start" font-weight="normal" >All</text>
<text x="864.30" y="1588.60" font-size="33.5" text-anchor="start" font-weight="normal" >NMR</text>
<path d="M145.30,2408.90L145.30,2408.90L156.43,2408.90L156.43,2408.90L167.56,2408.90L167.56,2408.90L178.69,2408.90L178.69,2408.90L189.82,2408.90L189.82,2408.90L200.95,2408.90L200.95,2408.90L212.08,2408.90L212.08,2408.90L223.21,2408.90L223.21,2408.90L234.34,2408.90L234.34,2408.90L245.48,2408.90L245.48,2408.90L256.61,2408.90L256.61,2408.90L267.74,2408.90L267.74,2408.90L278.87,2408.90L278.87,2408.90L290.00,2408.90L290.00,2408.90L301.13,2408.90L301.13,2408.90L312.26,2408.90L312.26,2408.90L323.39,2408.90L323.39,2408.90L334.52,2408.90L334.52,2406.74L345.65,2406.74L345.65,2399.88L356.78,2399.88L356.78,2381.85L367.91,2381.85L367.91,2337.73L379.04,2337.73L379.04,2261.47L390.17,2261.47L390.17,2184.81L401.30,2184.81L401.30,2147.57L412.43,2147.57L412.43,2158.94L423.56,2158.94L423.56,2194.23L434.69,2194.23L434.69,2231.67L445.83,2231.67L445.83,2253.24L456.96,2253.24L456.96,2265.39L468.09,2265.39L468.09,2285.58L479.22,2285.58L479.22,2321.07L490.35,2321.07L490.35,2360.67L501.48,2360.67L501.48,2378.71L512.61,2378.71L512.61,2358.52L523.74,2358.52L523.74,2286.96L534.87,2286.96L534.87,2183.05L546.00,2183.05L546.00,2122.67L557.13,2122.67L557.13,2150.31L568.26,2150.31L568.26,2206.38L579.39,2206.38L579.39,2213.24L590.52,2213.24L590.52,2206.38L601.65,2206.38L601.65,2239.90L612.78,2239.90L612.78,2304.99L623.91,2304.99L623.91,2361.65L635.04,2361.65L635.04,2392.63L646.18,2392.63L646.18,2405.18L657.31,2405.18L657.31,2408.90L668.44,2408.90L668.44,2408.90L679.57,2408.90L679.57,2408.90L690.70,2408.90L690.70,2408.90L701.83,2408.90L701.83,2408.90L712.96,2408.90L712.96,2408.31L724.09,2408.31L724.09,2407.33L735.22,2407.33L735.22,2405.96L746.35,2405.96L746.35,2405.57L757.48,2405.57L757.48,2406.94L768.61,2406.94L768.61,2408.12L779.74,2408.12L779.74,2408.90L790.87,2408.90L790.87,2408.90L802.00,2408.90L802.00,2408.90L813.13,2408.90L813.13,2408.90L824.26,2408.90L824.26,2408.90L835.39,2408.90L835.39,2408.90L846.53,2408.90L846.53,2408.90L857.66,2408.90L857.66,2408.90L868.79,2408.90L868.79,2408.90L879.92,2408.90L879.92,2408.90L891.05,2408.90L891.05,2408.90L902.18,2408.90L902.18,2408.90L913.31,2408.90L913.31,2408.90L924.44,2408.90L924.44,2408.90L935.57,2408.90L935.57,2408.90L946.70,2408.90L946.70,2408.90Z" fill="#1492cb" fill-opacity="1"/>
<path d="M145.30,2408.90L145.30,2408.90L156.43,2408.90L156.43,2408.90L167.56,2408.90L167.56,2408.90L178.69,2408.90L178.69,2408.90L189.82,2408.90L189.82,2408.90L200.95,2408.90L200.95,2408.90L212.08,2408.90L212.08,2408.90L223.21,2408.90L223.21,2408.90L234.34,2408.90L234.34,2408.90L245.48,2408.90L245.48,2408.90L256.61,2408.90L256.61,2408.90L267.74,2408.90L267.74,2408.90L278.87,2408.90L278.87,2408.90L290.00,2408.90L290.00,2408.90L301.13,2408.90L301.13,2408.90L312.26,2408.90L312.26,2408.90L323.39,2408.90L323.39,2408.90L334.52,2408.90L334.52,2408.90L345.65,2408.90L345.65,2405.18L356.78,2405.18L356.78,2383.22L367.91,2383.22L367.91,2330.87L379.04,2330.87L379.04,2223.04L390.17,2223.04L390.17,2141.10L401.30,2141.10L401.30,2049.93L412.43,2049.93L412.43,2066.99L423.56,2066.99L423.56,2104.83L434.69,2104.83L434.69,2189.91L445.83,2189.91L445.83,2205.20L456.96,2205.20L456.96,2243.43L468.09,2243.43L468.09,2243.04L479.22,2243.04L479.22,2296.76L490.35,2296.76L490.35,2330.48L501.48,2330.48L501.48,2370.28L512.61,2370.28L512.61,2355.18L523.74,2355.18L523.74,2314.60L534.87,2314.60L534.87,2251.67L546.00,2251.67L546.00,2230.49L557.13,2230.49L557.13,2261.08L568.26,2261.08L568.26,2278.72L579.39,2278.72L579.39,2262.25L590.52,2262.25L590.52,2258.53L601.65,2258.53L601.65,2282.25L612.78,2282.25L612.78,2328.72L623.91,2328.72L623.91,2363.61L635.04,2363.61L635.04,2397.73L646.18,2397.73L646.18,2405.18L657.31,2405.18L657.31,2408.90L668.44,2408.90L668.44,2408.90L679.57,2408.90L679.57,2408.90L690.70,2408.90L690.70,2408.90L701.83,2408.90L701.83,2408.90L712.96,2408.90L712.96,2408.90L724.09,2408.90L724.09,2408.90L735.22,2408.90L735.22,2408.90L746.35,2408.90L746.35,2408.90L757.48,2408.90L757.48,2408.90L768.61,2408.90L768.61,2408.90L779.74,2408.90L779.74,2408.90L790.87,2408.90L790.87,2408.90L802.00,2408.90L802.00,2408.90L813.13,2408.90L813.13,2408.90L824.26,2408.90L824.26,2408.90L835.39,2408.90L835.39,2408.90L846.53,2408.90L846.53,2408.90L857.66,2408.90L857.66,2408.90L868.79,2408.90L868.79,2408.90L879.92,2408.90L879.92,2408.90L891.05,2408.90L891.05,2408.90L902.18,2408.90L902.18,2408.90L913.31,2408.90L913.31,2408.90L924.44,2408.90L924.44,2408.90L935.57,2408.90L935.57,2408.90L946.70,2408.90L946.70,2408.90Z" fill="#f38f91" fill-opacity="1"/>
<path d="M145.30,2408.90L145.30,2408.90L156.43,2408.90L156.43,2408.90L167.56,2408.90L167.56,2408.90L178.69,2408.90L178.69,2408.90L189.82,2408.90L189.82,2408.90L200.95,2408.90L200.95,2408.90L212.08,2408.90L212.08,2408.90L223.21,2408.90L223.21,2408.90L234.34,2408.90L234.34,2408.90L245.48,2408.90L245.48,2408.90L256.61,2408.90L256.61,2408.90L267.74,2408.90L267.74,2408.90L278.87,2408.90L278.87,2408.90L290.00,2408.90L290.00,2408.90L301.13,2408.90L301.13,2408.90L312.26,2408.90L312.26,2408.90L323.39,2408.90L323.39,2408.90L334.52,2408.90L334.52,2408.90L345.65,2408.90L345.65,2405.18L356.78,2405.18L356.78,2383.22L367.91,2383.22L367.91,2337.73L379.04,2337.73L379.04,2261.47L390.17,2261.47L390.17,2184.81L401.30,2184.81L401.30,2147.57L412.43,2147.57L412.43,2158.94L423.56,2158.94L423.56,2194.23L434.69,2194.23L434.69,2231.67L445.83,2231.67L445.83,2253.24L456.96,2253.24L456.96,2265.39L468.09,2265.39L468.09,2285.58L479.22,2285.58L479.22,2321.07L490.35,2321.07L490.35,2360.67L501.48,2360.67L501.48,2378.71L512.61,2378.71L512.61,2358.52L523.74,2358.52L523.74,2314.60L534.87,2314.60L534.87,2251.67L546.00,2251.67L546.00,2230.49L557.13,2230.49L557.13,2261.08L568.26,2261.08L568.26,2278.72L579.39,2278.72L579.39,2262.25L590.52,2262.25L590.52,2258.53L601.65,2258.53L601.65,2282.25L612.78,2282.25L612.78,2328.72L623.91,2328.72L623.91,2363.61L635.04,2363.61L635.04,2397.73L646.18,2397.73L646.18,2405.18L657.31,2405.18L657.31,2408.90L668.44,2408.90L668.44,2408.90L679.57,2408.90L679.57,2408.90L690.70,2408.90L690.70,2408.90L701.83,2408.90L701.83,2408.90L712.96,2408.90L712.96,2408.90L724.09,2408.90L724.09,2408.90L735.22,2408.90L735.22,2408.90L746.35,2408.90L746.35,2408.90L757.48,2408.90L757.48,2408.90L768.61,2408.90L768.61,2408.90L779.74,2408.90L779.74,2408.90L790.87,2408.90L790.87,2408.90L802.00,2408.90L802.00,2408.90L813.13,2408.90L813.13,2408.90L824.26,2408.90L824.26,2408.90L835.39,2408.90L835.39,2408.90L846.53,2408.90L846.53,2408.90L857.66,2408.90L857.66,2408.90L868.79,2408.90L868.79,2408.90L879.92,2408.90L879.92,2408.90L891.05,2408.90L891.05,2408.90L902.18,2408.90L902.18,2408.90L913.31,2408.90L913.31,2408.90L924.44,2408.90L924.44,2408.90L935.57,2408.90L935.57,2408.90L946.70,2408.90L946.70,2408.90Z" fill="#795a77" fill-opacity="1"/>
<rect x="145.3" y="2016.8" width="801.4000000000001" height="392.10000000000014" fill="none" stroke="#1a1718" stroke-width="3.0"/>
<line x1="132.80" y1="2408.90" x2="145.30" y2="2408.90" stroke="#1a1718" stroke-width="3.0" stroke-linecap="butt"/>
<text x="124.30" y="2421.20" font-size="33.5" text-anchor="end" font-weight="normal" >0</text>
<line x1="132.80" y1="2310.88" x2="145.30" y2="2310.88" stroke="#1a1718" stroke-width="3.0" stroke-linecap="butt"/>
<text x="124.30" y="2323.18" font-size="33.5" text-anchor="end" font-weight="normal" >5</text>
<line x1="132.80" y1="2212.85" x2="145.30" y2="2212.85" stroke="#1a1718" stroke-width="3.0" stroke-linecap="butt"/>
<text x="124.30" y="2225.15" font-size="33.5" text-anchor="end" font-weight="normal" >10</text>
<line x1="132.80" y1="2114.83" x2="145.30" y2="2114.83" stroke="#1a1718" stroke-width="3.0" stroke-linecap="butt"/>
<text x="124.30" y="2127.13" font-size="33.5" text-anchor="end" font-weight="normal" >15</text>
<line x1="132.80" y1="2016.80" x2="145.30" y2="2016.80" stroke="#1a1718" stroke-width="3.0" stroke-linecap="butt"/>
<text x="124.30" y="2029.10" font-size="33.5" text-anchor="end" font-weight="normal" >20</text>
<line x1="136.50" y1="2359.89" x2="145.30" y2="2359.89" stroke="#1a1718" stroke-width="2.8" stroke-linecap="butt"/>
<line x1="136.50" y1="2261.86" x2="145.30" y2="2261.86" stroke="#1a1718" stroke-width="2.8" stroke-linecap="butt"/>
<line x1="136.50" y1="2163.84" x2="145.30" y2="2163.84" stroke="#1a1718" stroke-width="2.8" stroke-linecap="butt"/>
<line x1="136.50" y1="2065.81" x2="145.30" y2="2065.81" stroke="#1a1718" stroke-width="2.8" stroke-linecap="butt"/>
<line x1="145.30" y1="2408.90" x2="145.30" y2="2421.40" stroke="#1a1718" stroke-width="3.0" stroke-linecap="butt"/>
<text x="145.30" y="2454.10" font-size="33.5" text-anchor="middle" font-weight="normal" >0</text>
<line x1="345.65" y1="2408.90" x2="345.65" y2="2421.40" stroke="#1a1718" stroke-width="3.0" stroke-linecap="butt"/>
<text x="345.65" y="2454.10" font-size="33.5" text-anchor="middle" font-weight="normal" >90</text>
<line x1="546.00" y1="2408.90" x2="546.00" y2="2421.40" stroke="#1a1718" stroke-width="3.0" stroke-linecap="butt"/>
<text x="546.00" y="2454.10" font-size="33.5" text-anchor="middle" font-weight="normal" >180</text>
<line x1="746.35" y1="2408.90" x2="746.35" y2="2421.40" stroke="#1a1718" stroke-width="3.0" stroke-linecap="butt"/>
<text x="746.35" y="2454.10" font-size="33.5" text-anchor="middle" font-weight="normal" >270</text>
<line x1="946.70" y1="2408.90" x2="946.70" y2="2421.40" stroke="#1a1718" stroke-width="3.0" stroke-linecap="butt"/>
<text x="946.70" y="2454.10" font-size="33.5" text-anchor="middle" font-weight="normal" >360</text>
<line x1="212.08" y1="2408.90" x2="212.08" y2="2417.70" stroke="#1a1718" stroke-width="2.8" stroke-linecap="butt"/>
<line x1="278.87" y1="2408.90" x2="278.87" y2="2417.70" stroke="#1a1718" stroke-width="2.8" stroke-linecap="butt"/>
<line x1="412.43" y1="2408.90" x2="412.43" y2="2417.70" stroke="#1a1718" stroke-width="2.8" stroke-linecap="butt"/>
<line x1="479.22" y1="2408.90" x2="479.22" y2="2417.70" stroke="#1a1718" stroke-width="2.8" stroke-linecap="butt"/>
<line x1="612.78" y1="2408.90" x2="612.78" y2="2417.70" stroke="#1a1718" stroke-width="2.8" stroke-linecap="butt"/>
<line x1="679.57" y1="2408.90" x2="679.57" y2="2417.70" stroke="#1a1718" stroke-width="2.8" stroke-linecap="butt"/>
<line x1="813.13" y1="2408.90" x2="813.13" y2="2417.70" stroke="#1a1718" stroke-width="2.8" stroke-linecap="butt"/>
<line x1="879.92" y1="2408.90" x2="879.92" y2="2417.70" stroke="#1a1718" stroke-width="2.8" stroke-linecap="butt"/>
<text x="546.00" y="2488.10" font-size="33.5" text-anchor="middle" font-weight="normal" >Angle [°]</text>
<text x="0.00" y="0.00" font-size="33.5" text-anchor="middle" font-weight="normal" transform="translate(74,2213.65) rotate(-90)">Normalised count x1000</text>
<text x="1.50" y="2017.00" font-size="34" text-anchor="start" font-weight="bold" >e</text>
<rect x="157.5" y="2342.7" width="42.5" height="15" fill="#1492cb"/>
<rect x="157.5" y="2382.2" width="42.5" height="15" fill="#f38f91"/>
<text x="213.00" y="2360.90" font-size="33.5" text-anchor="start" font-weight="normal" >All</text>
<text x="213.00" y="2400.40" font-size="33.5" text-anchor="start" font-weight="normal" >NMR</text>
<path d="M636.30,190.60L679.00,215.25L679.00,264.55L636.30,289.20L593.60,264.55L593.60,215.25Z" fill="none" stroke="#1a1718" stroke-width="2.3" stroke-linejoin="round"/>
<line x1="637.17" y1="200.68" x2="669.83" y2="219.54" stroke="#1a1718" stroke-width="2.3" stroke-linecap="butt"/>
<line x1="669.83" y1="260.26" x2="637.17" y2="279.12" stroke="#1a1718" stroke-width="2.3" stroke-linecap="butt"/>
<line x1="601.90" y1="258.76" x2="601.90" y2="221.04" stroke="#1a1718" stroke-width="2.3" stroke-linecap="butt"/>
<line x1="636.30" y1="190.60" x2="636.30" y2="143.60" stroke="#1a1718" stroke-width="2.3" stroke-linecap="round"/>
<path d="M606.00,143.60L606.41,144.25L606.81,144.80L607.22,145.17L607.62,145.30L608.03,145.17L608.44,144.80L608.84,144.25L609.25,143.60L609.66,142.95L610.06,142.40L610.47,142.03L610.88,141.90L611.28,142.03L611.69,142.40L612.09,142.95L612.50,143.60L612.91,144.25L613.31,144.80L613.72,145.17L614.12,145.30L614.53,145.17L614.94,144.80L615.34,144.25L615.75,143.60L616.16,142.95L616.56,142.40L616.97,142.03L617.38,141.90L617.78,142.03L618.19,142.40L618.59,142.95L619.00,143.60L619.41,144.25L619.81,144.80L620.22,145.17L620.62,145.30L621.03,145.17L621.44,144.80L621.84,144.25L622.25,143.60L622.66,142.95L623.06,142.40L623.47,142.03L623.88,141.90L624.28,142.03L624.69,142.40L625.09,142.95L625.50,143.60L625.91,144.25L626.31,144.80L626.72,145.17L627.12,145.30L627.53,145.17L627.94,144.80L628.34,144.25L628.75,143.60L629.16,142.95L629.56,142.40L629.97,142.03L630.38,141.90L630.78,142.03L631.19,142.40L631.59,142.95L632.00,143.60L632.41,144.25L632.81,144.80L633.22,145.17L633.62,145.30L634.03,145.17L634.44,144.80L634.84,144.25L635.25,143.60L635.66,142.95L636.06,142.40L636.47,142.03L636.88,141.90L637.28,142.03L637.69,142.40L638.09,142.95L638.50,143.60L638.91,144.25L639.31,144.80L639.72,145.17L640.12,145.30L640.53,145.17L640.94,144.80L641.34,144.25L641.75,143.60L642.16,142.95L642.56,142.40L642.97,142.03L643.38,141.90L643.78,142.03L644.19,142.40L644.59,142.95L645.00,143.60L645.41,144.25L645.81,144.80L646.22,145.17L646.62,145.30L647.03,145.17L647.44,144.80L647.84,144.25L648.25,143.60L648.66,142.95L649.06,142.40L649.47,142.03L649.88,141.90L650.28,142.03L650.69,142.40L651.09,142.95L651.50,143.60L651.91,144.25L652.31,144.80L652.72,145.17L653.12,145.30L653.53,145.17L653.94,144.80L654.34,144.25L654.75,143.60L655.16,142.95L655.56,142.40L655.97,142.03L656.38,141.90L656.78,142.03L657.19,142.40L657.59,142.95L658.00,143.60L658.41,144.25L658.81,144.80L659.22,145.17L659.62,145.30L660.03,145.17L660.44,144.80L660.84,144.25L661.25,143.60L661.66,142.95L662.06,142.40L662.47,142.03L662.88,141.90L663.28,142.03L663.69,142.40L664.09,142.95L664.50,143.60" fill="none" stroke="#1a1718" stroke-width="2.4" stroke-linecap="round" stroke-linejoin="round"/>
<line x1="593.60" y1="215.25" x2="564.30" y2="198.80" stroke="#1a1718" stroke-width="2.3" stroke-linecap="round"/>
<text x="542.60" y="204.00" font-size="34" text-anchor="start" font-weight="normal" >F</text>
<line x1="679.00" y1="215.25" x2="704.00" y2="200.50" stroke="#1a1718" stroke-width="2.3" stroke-linecap="round"/>
<text x="706.08" y="204.00" font-size="34" text-anchor="start" font-weight="normal" >OH</text>
<circle cx="761.3" cy="192.9" r="2.1" fill="#1a1718"/>
<circle cx="770.6" cy="192.9" r="2.1" fill="#1a1718"/>
<circle cx="779.9" cy="192.9" r="2.1" fill="#1a1718"/>
<text x="784.64" y="204.00" font-size="34" text-anchor="start" font-weight="normal" >X</text>
<path d="M564.80,563.90L606.89,588.20L606.89,636.80L564.80,661.10L522.71,636.80L522.71,588.20Z" fill="none" stroke="#1a1718" stroke-width="2.3" stroke-linejoin="round"/>
<line x1="531.88" y1="592.49" x2="563.93" y2="573.98" stroke="#1a1718" stroke-width="2.3" stroke-linecap="butt"/>
<line x1="598.59" y1="593.99" x2="598.59" y2="631.01" stroke="#1a1718" stroke-width="2.3" stroke-linecap="butt"/>
<line x1="563.93" y1="651.02" x2="531.88" y2="632.51" stroke="#1a1718" stroke-width="2.3" stroke-linecap="butt"/>
<line x1="606.89" y1="636.80" x2="632.50" y2="651.50" stroke="#1a1718" stroke-width="2.3" stroke-linecap="round"/>
<text x="638.10" y="672.60" font-size="34" text-anchor="start" font-weight="normal" >F</text>
<line x1="564.80" y1="661.10" x2="564.80" y2="709.40" stroke="#1a1718" stroke-width="2.3" stroke-linecap="round"/>
<path d="M537.00,709.40L537.40,710.05L537.79,710.60L538.19,710.97L538.58,711.10L538.98,710.97L539.38,710.60L539.77,710.05L540.17,709.40L540.56,708.75L540.96,708.20L541.35,707.83L541.75,707.70L542.15,707.83L542.54,708.20L542.94,708.75L543.33,709.40L543.73,710.05L544.12,710.60L544.52,710.97L544.92,711.10L545.31,710.97L545.71,710.60L546.10,710.05L546.50,709.40L546.90,708.75L547.29,708.20L547.69,707.83L548.08,707.70L548.48,707.83L548.88,708.20L549.27,708.75L549.67,709.40L550.06,710.05L550.46,710.60L550.85,710.97L551.25,711.10L551.65,710.97L552.04,710.60L552.44,710.05L552.83,709.40L553.23,708.75L553.62,708.20L554.02,707.83L554.42,707.70L554.81,707.83L555.21,708.20L555.60,708.75L556.00,709.40L556.40,710.05L556.79,710.60L557.19,710.97L557.58,711.10L557.98,710.97L558.38,710.60L558.77,710.05L559.17,709.40L559.56,708.75L559.96,708.20L560.35,707.83L560.75,707.70L561.15,707.83L561.54,708.20L561.94,708.75L562.33,709.40L562.73,710.05L563.12,710.60L563.52,710.97L563.92,711.10L564.31,710.97L564.71,710.60L565.10,710.05L565.50,709.40L565.90,708.75L566.29,708.20L566.69,707.83L567.08,707.70L567.48,707.83L567.88,708.20L568.27,708.75L568.67,709.40L569.06,710.05L569.46,710.60L569.85,710.97L570.25,711.10L570.65,710.97L571.04,710.60L571.44,710.05L571.83,709.40L572.23,708.75L572.62,708.20L573.02,707.83L573.42,707.70L573.81,707.83L574.21,708.20L574.60,708.75L575.00,709.40L575.40,710.05L575.79,710.60L576.19,710.97L576.58,711.10L576.98,710.97L577.38,710.60L577.77,710.05L578.17,709.40L578.56,708.75L578.96,708.20L579.35,707.83L579.75,707.70L580.15,707.83L580.54,708.20L580.94,708.75L581.33,709.40L581.73,710.05L582.12,710.60L582.52,710.97L582.92,711.10L583.31,710.97L583.71,710.60L584.10,710.05L584.50,709.40L584.90,708.75L585.29,708.20L585.69,707.83L586.08,707.70L586.48,707.83L586.88,708.20L587.27,708.75L587.67,709.40L588.06,710.05L588.46,710.60L588.85,710.97L589.25,711.10L589.65,710.97L590.04,710.60L590.44,710.05L590.83,709.40L591.23,708.75L591.62,708.20L592.02,707.83L592.42,707.70L592.81,707.83L593.21,708.20L593.60,708.75L594.00,709.40" fill="none" stroke="#1a1718" stroke-width="2.4" stroke-linecap="round" stroke-linejoin="round"/>
<line x1="522.71" y1="636.80" x2="496.40" y2="651.50" stroke="#e9541f" stroke-width="2.3" stroke-linecap="round"/>
<text x="467.29" y="673.30" font-size="34" text-anchor="start" font-weight="normal" >O</text>
<line x1="445.60" y1="641.60" x2="465.60" y2="653.30" stroke="#1a1718" stroke-width="2.3" stroke-linecap="round"/>
<text x="417.01" y="644.10" font-size="34" text-anchor="start" font-weight="normal" >H</text>
<text x="441.27" y="638.37" font-size="33.5" text-anchor="start" font-weight="normal" stroke="#1a1718" stroke-width="0.5" stroke-linejoin="round">*</text>
<text x="484.37" y="659.97" font-size="33.5" text-anchor="start" font-weight="normal" stroke="#1a1718" stroke-width="0.5" stroke-linejoin="round">*</text>
<text x="507.47" y="647.67" font-size="33.5" text-anchor="start" font-weight="normal" stroke="#1a1718" stroke-width="0.5" stroke-linejoin="round">*</text>
<text x="548.97" y="687.67" font-size="33.5" text-anchor="start" font-weight="normal" stroke="#1a1718" stroke-width="0.5" stroke-linejoin="round">*</text>
<line x1="507.80" y1="597.90" x2="411.14" y2="605.31" stroke="#1a1718" stroke-width="2.2" stroke-linecap="butt"/>
<path d="M391.70,606.80L416.04,597.21L412.14,605.23L417.22,612.57Z" fill="#1a1718"/>
<path d="M842.00,531.00L884.00,555.25L884.00,603.75L842.00,628.00L800.00,603.75L800.00,555.25Z" fill="none" stroke="#1a1718" stroke-width="2.3" stroke-linejoin="round"/>
<line x1="809.16" y1="559.54" x2="841.13" y2="541.08" stroke="#1a1718" stroke-width="2.3" stroke-linecap="butt"/>
<line x1="875.70" y1="561.04" x2="875.70" y2="597.96" stroke="#1a1718" stroke-width="2.3" stroke-linecap="butt"/>
<line x1="841.13" y1="617.92" x2="809.16" y2="599.46" stroke="#1a1718" stroke-width="2.3" stroke-linecap="butt"/>
<line x1="884.00" y1="603.75" x2="910.30" y2="618.90" stroke="#1a1718" stroke-width="2.3" stroke-linecap="round"/>
<text x="915.40" y="639.20" font-size="34" text-anchor="start" font-weight="normal" >F</text>
<line x1="842.00" y1="628.00" x2="842.00" y2="676.00" stroke="#1a1718" stroke-width="2.3" stroke-linecap="round"/>
<path d="M814.00,676.00L814.40,676.65L814.81,677.20L815.21,677.57L815.61,677.70L816.01,677.57L816.42,677.20L816.82,676.65L817.22,676.00L817.62,675.35L818.03,674.80L818.43,674.43L818.83,674.30L819.24,674.43L819.64,674.80L820.04,675.35L820.44,676.00L820.85,676.65L821.25,677.20L821.65,677.57L822.06,677.70L822.46,677.57L822.86,677.20L823.26,676.65L823.67,676.00L824.07,675.35L824.47,674.80L824.88,674.43L825.28,674.30L825.68,674.43L826.08,674.80L826.49,675.35L826.89,676.00L827.29,676.65L827.69,677.20L828.10,677.57L828.50,677.70L828.90,677.57L829.31,677.20L829.71,676.65L830.11,676.00L830.51,675.35L830.92,674.80L831.32,674.43L831.72,674.30L832.12,674.43L832.53,674.80L832.93,675.35L833.33,676.00L833.74,676.65L834.14,677.20L834.54,677.57L834.94,677.70L835.35,677.57L835.75,677.20L836.15,676.65L836.56,676.00L836.96,675.35L837.36,674.80L837.76,674.43L838.17,674.30L838.57,674.43L838.97,674.80L839.38,675.35L839.78,676.00L840.18,676.65L840.58,677.20L840.99,677.57L841.39,677.70L841.79,677.57L842.19,677.20L842.60,676.65L843.00,676.00L843.40,675.35L843.81,674.80L844.21,674.43L844.61,674.30L845.01,674.43L845.42,674.80L845.82,675.35L846.22,676.00L846.62,676.65L847.03,677.20L847.43,677.57L847.83,677.70L848.24,677.57L848.64,677.20L849.04,676.65L849.44,676.00L849.85,675.35L850.25,674.80L850.65,674.43L851.06,674.30L851.46,674.43L851.86,674.80L852.26,675.35L852.67,676.00L853.07,676.65L853.47,677.20L853.88,677.57L854.28,677.70L854.68,677.57L855.08,677.20L855.49,676.65L855.89,676.00L856.29,675.35L856.69,674.80L857.10,674.43L857.50,674.30L857.90,674.43L858.31,674.80L858.71,675.35L859.11,676.00L859.51,676.65L859.92,677.20L860.32,677.57L860.72,677.70L861.12,677.57L861.53,677.20L861.93,676.65L862.33,676.00L862.74,675.35L863.14,674.80L863.54,674.43L863.94,674.30L864.35,674.43L864.75,674.80L865.15,675.35L865.56,676.00L865.96,676.65L866.36,677.20L866.76,677.57L867.17,677.70L867.57,677.57L867.97,677.20L868.38,676.65L868.78,676.00L869.18,675.35L869.58,674.80L869.99,674.43L870.39,674.30L870.79,674.43L871.19,674.80L871.60,675.35L872.00,676.00" fill="none" stroke="#1a1718" stroke-width="2.4" stroke-linecap="round" stroke-linejoin="round"/>
<line x1="800.00" y1="603.75" x2="773.90" y2="618.90" stroke="#e9541f" stroke-width="2.3" stroke-linecap="round"/>
<text x="744.59" y="639.70" font-size="34" text-anchor="start" font-weight="normal" >O</text>
<line x1="759.00" y1="646.30" x2="759.00" y2="668.50" stroke="#1a1718" stroke-width="2.3" stroke-linecap="round"/>
<text x="746.01" y="698.50" font-size="34" text-anchor="start" font-weight="normal" >H</text>
<text x="762.97" y="624.87" font-size="33.5" text-anchor="start" font-weight="normal" stroke="#1a1718" stroke-width="0.5" stroke-linejoin="round">*</text>
<text x="785.87" y="612.37" font-size="33.5" text-anchor="start" font-weight="normal" stroke="#1a1718" stroke-width="0.5" stroke-linejoin="round">*</text>
<text x="826.57" y="651.87" font-size="33.5" text-anchor="start" font-weight="normal" stroke="#1a1718" stroke-width="0.5" stroke-linejoin="round">*</text>
<text x="768.57" y="688.87" font-size="33.5" text-anchor="start" font-weight="normal" stroke="#1a1718" stroke-width="0.5" stroke-linejoin="round">*</text>
<line x1="825.60" y1="693.70" x2="792.07" y2="742.34" stroke="#1a1718" stroke-width="2.2" stroke-linecap="butt"/>
<path d="M781.00,758.40L788.85,733.45L792.63,741.52L801.53,742.19Z" fill="#1a1718"/>
<text x="324.69" y="1134.70" font-size="34" text-anchor="start" font-weight="normal" >O</text>
<line x1="333.50" y1="1141.00" x2="333.50" y2="1171.50" stroke="#1a1718" stroke-width="2.3" stroke-linecap="butt"/>
<line x1="341.90" y1="1141.00" x2="341.90" y2="1171.50" stroke="#1a1718" stroke-width="2.3" stroke-linecap="butt"/>
<line x1="337.90" y1="1171.50" x2="297.00" y2="1194.00" stroke="#1a1718" stroke-width="2.3" stroke-linecap="round"/>
<path d="M281.00,1171.50L280.68,1172.16L280.45,1172.77L280.36,1173.29L280.46,1173.69L280.77,1173.96L281.28,1174.12L281.93,1174.18L282.66,1174.20L283.38,1174.22L284.03,1174.28L284.54,1174.44L284.85,1174.71L284.95,1175.11L284.86,1175.63L284.63,1176.24L284.31,1176.90L284.00,1177.56L283.76,1178.17L283.67,1178.69L283.77,1179.09L284.09,1179.36L284.59,1179.52L285.24,1179.58L285.97,1179.60L286.70,1179.62L287.35,1179.68L287.85,1179.84L288.16,1180.11L288.26,1180.51L288.17,1181.03L287.94,1181.64L287.62,1182.30L287.31,1182.96L287.07,1183.57L286.98,1184.09L287.09,1184.49L287.40,1184.76L287.90,1184.92L288.55,1184.98L289.28,1185.00L290.01,1185.02L290.66,1185.08L291.16,1185.24L291.47,1185.51L291.57,1185.91L291.48,1186.43L291.25,1187.04L290.93,1187.70L290.62,1188.36L290.38,1188.97L290.29,1189.49L290.40,1189.89L290.71,1190.16L291.21,1190.32L291.86,1190.38L292.59,1190.40L293.32,1190.42L293.97,1190.48L294.47,1190.64L294.78,1190.91L294.88,1191.31L294.80,1191.83L294.56,1192.44L294.24,1193.10L293.93,1193.76L293.69,1194.37L293.61,1194.89L293.71,1195.29L294.02,1195.56L294.52,1195.72L295.17,1195.78L295.90,1195.80L296.63,1195.82L297.28,1195.88L297.78,1196.04L298.09,1196.31L298.19,1196.71L298.11,1197.23L297.87,1197.84L297.56,1198.50L297.24,1199.16L297.00,1199.77L296.92,1200.29L297.02,1200.69L297.33,1200.96L297.83,1201.12L298.48,1201.18L299.21,1201.20L299.94,1201.22L300.59,1201.28L301.09,1201.44L301.40,1201.71L301.51,1202.11L301.42,1202.63L301.18,1203.24L300.87,1203.90L300.55,1204.56L300.32,1205.17L300.23,1205.69L300.33,1206.09L300.64,1206.36L301.14,1206.52L301.79,1206.58L302.52,1206.60L303.25,1206.62L303.90,1206.68L304.40,1206.84L304.71,1207.11L304.82,1207.51L304.73,1208.03L304.49,1208.64L304.18,1209.30L303.86,1209.96L303.63,1210.57L303.54,1211.09L303.64,1211.49L303.95,1211.76L304.45,1211.92L305.10,1211.98L305.83,1212.00L306.56,1212.02L307.21,1212.08L307.71,1212.24L308.03,1212.51L308.13,1212.91L308.04,1213.43L307.80,1214.04L307.49,1214.70L307.17,1215.36L306.94,1215.97L306.85,1216.49L306.95,1216.89L307.26,1217.16L307.77,1217.32L308.42,1217.38L309.14,1217.40L309.87,1217.42L310.52,1217.48L311.03,1217.64L311.34,1217.91L311.44,1218.31L311.35,1218.83L311.12,1219.44L310.80,1220.10" fill="none" stroke="#1a1718" stroke-width="4.0" stroke-linecap="round" stroke-linejoin="round"/>
<line x1="337.90" y1="1171.50" x2="379.50" y2="1194.60" stroke="#e9541f" stroke-width="2.3" stroke-linecap="round"/>
<line x1="379.50" y1="1194.60" x2="379.50" y2="1242.30" stroke="#1a1718" stroke-width="2.3" stroke-linecap="butt"/>
<line x1="370.90" y1="1200.00" x2="370.90" y2="1242.30" stroke="#1a1718" stroke-width="2.3" stroke-linecap="butt"/>
<text x="350.47" y="1122.97" font-size="33.5" text-anchor="start" font-weight="normal" stroke="#1a1718" stroke-width="0.5" stroke-linejoin="round">*</text>
<text x="347.37" y="1179.97" font-size="33.5" text-anchor="start" font-weight="normal" stroke="#1a1718" stroke-width="0.5" stroke-linejoin="round">*</text>
<text x="382.17" y="1204.57" font-size="33.5" text-anchor="start" font-weight="normal" stroke="#1a1718" stroke-width="0.5" stroke-linejoin="round">*</text>
<text x="369.87" y="1272.27" font-size="33.5" text-anchor="start" font-weight="normal" stroke="#1a1718" stroke-width="0.5" stroke-linejoin="round">*</text>
<line x1="339.50" y1="1210.90" x2="310.84" y2="1287.44" stroke="#1a1718" stroke-width="2.2" stroke-linecap="butt"/>
<path d="M304.00,1305.70L305.56,1279.59L311.19,1286.50L319.98,1284.99Z" fill="#1a1718"/>
<line x1="400.10" y1="1217.70" x2="742.24" y2="1258.87" stroke="#1a1718" stroke-width="2.2" stroke-linecap="butt"/>
<path d="M761.60,1261.20L735.86,1265.86L741.25,1258.75L737.70,1250.57Z" fill="#1a1718"/>
<text x="672.49" y="1063.50" font-size="34" text-anchor="start" font-weight="normal" >O</text>
<line x1="681.60" y1="1069.90" x2="681.60" y2="1100.10" stroke="#1a1718" stroke-width="2.3" stroke-linecap="butt"/>
<line x1="690.00" y1="1069.90" x2="690.00" y2="1100.10" stroke="#1a1718" stroke-width="2.3" stroke-linecap="butt"/>
<line x1="685.80" y1="1100.10" x2="645.60" y2="1122.30" stroke="#1a1718" stroke-width="2.3" stroke-linecap="round"/>
<path d="M628.30,1100.10L627.97,1100.79L627.72,1101.43L627.63,1101.96L627.73,1102.37L628.06,1102.64L628.59,1102.78L629.27,1102.83L630.03,1102.82L630.80,1102.81L631.48,1102.85L632.01,1102.99L632.33,1103.26L632.44,1103.67L632.35,1104.21L632.10,1104.84L631.77,1105.53L631.43,1106.22L631.19,1106.86L631.09,1107.40L631.20,1107.81L631.53,1108.08L632.05,1108.22L632.73,1108.26L633.50,1108.25L634.27,1108.24L634.95,1108.28L635.47,1108.42L635.80,1108.69L635.91,1109.10L635.81,1109.64L635.57,1110.28L635.23,1110.97L634.90,1111.66L634.65,1112.29L634.56,1112.83L634.67,1113.24L634.99,1113.51L635.52,1113.65L636.20,1113.69L636.97,1113.68L637.73,1113.67L638.41,1113.72L638.94,1113.86L639.27,1114.13L639.37,1114.54L639.28,1115.07L639.03,1115.71L638.70,1116.40L638.37,1117.09L638.12,1117.73L638.03,1118.26L638.13,1118.67L638.46,1118.94L638.99,1119.08L639.67,1119.13L640.43,1119.12L641.20,1119.11L641.88,1119.15L642.41,1119.29L642.73,1119.56L642.84,1119.97L642.75,1120.51L642.50,1121.14L642.17,1121.83L641.83,1122.52L641.59,1123.16L641.49,1123.70L641.60,1124.11L641.93,1124.38L642.45,1124.52L643.13,1124.56L643.90,1124.55L644.67,1124.54L645.35,1124.58L645.87,1124.72L646.20,1124.99L646.31,1125.40L646.21,1125.94L645.97,1126.58L645.63,1127.27L645.30,1127.96L645.05,1128.59L644.96,1129.13L645.07,1129.54L645.39,1129.81L645.92,1129.95L646.60,1129.99L647.37,1129.98L648.13,1129.97L648.81,1130.02L649.34,1130.16L649.67,1130.43L649.77,1130.84L649.68,1131.37L649.43,1132.01L649.10,1132.70L648.77,1133.39L648.52,1134.03L648.43,1134.56L648.53,1134.97L648.86,1135.24L649.39,1135.38L650.07,1135.43L650.83,1135.42L651.60,1135.41L652.28,1135.45L652.81,1135.59L653.13,1135.86L653.24,1136.27L653.15,1136.81L652.90,1137.44L652.57,1138.13L652.23,1138.82L651.99,1139.46L651.89,1140.00L652.00,1140.41L652.33,1140.68L652.85,1140.82L653.53,1140.86L654.30,1140.85L655.07,1140.84L655.75,1140.88L656.27,1141.02L656.60,1141.29L656.71,1141.70L656.61,1142.24L656.37,1142.88L656.03,1143.57L655.70,1144.26L655.45,1144.89L655.36,1145.43L655.47,1145.84L655.79,1146.11L656.32,1146.25L657.00,1146.29L657.77,1146.28L658.53,1146.27L659.21,1146.32L659.74,1146.46L660.07,1146.73L660.17,1147.14L660.08,1147.67L659.83,1148.31L659.50,1149.00" fill="none" stroke="#1a1718" stroke-width="2.4" stroke-linecap="round" stroke-linejoin="round"/>
<line x1="685.80" y1="1100.10" x2="727.70" y2="1123.70" stroke="#e9541f" stroke-width="2.3" stroke-linecap="round"/>
<line x1="727.70" y1="1123.70" x2="769.40" y2="1099.70" stroke="#1a1718" stroke-width="2.3" stroke-linecap="round"/>
<line x1="727.70" y1="1114.00" x2="764.90" y2="1092.30" stroke="#1a1718" stroke-width="2.3" stroke-linecap="butt"/>
<text x="696.77" y="1053.17" font-size="33.5" text-anchor="start" font-weight="normal" stroke="#1a1718" stroke-width="0.5" stroke-linejoin="round">*</text>
<text x="678.27" y="1134.27" font-size="33.5" text-anchor="start" font-weight="normal" stroke="#1a1718" stroke-width="0.5" stroke-linejoin="round">*</text>
<text x="722.47" y="1153.77" font-size="33.5" text-anchor="start" font-weight="normal" stroke="#1a1718" stroke-width="0.5" stroke-linejoin="round">*</text>
<text x="763.27" y="1097.37" font-size="33.5" text-anchor="start" font-weight="normal" stroke="#1a1718" stroke-width="0.5" stroke-linejoin="round">*</text>
<line x1="660.60" y1="1061.10" x2="537.10" y2="1061.10" stroke="#1a1718" stroke-width="2.2" stroke-linecap="butt"/>
<path d="M517.60,1061.10L542.60,1053.40L538.10,1061.10L542.60,1068.80Z" fill="#1a1718"/>
<line x1="692.40" y1="1138.70" x2="639.47" y2="1185.74" stroke="#1a1718" stroke-width="2.2" stroke-linecap="butt"/>
<path d="M624.90,1198.70L638.47,1176.34L640.22,1185.08L648.70,1187.85Z" fill="#1a1718"/>
<circle cx="225.1" cy="1590.6" r="21.2" fill="none" stroke="#1a1718" stroke-width="2.25"/>
<text x="238.38" y="1546.76" font-size="29.5" text-anchor="start" font-weight="normal" >OH</text>
<text x="151.41" y="1602.04" font-size="29.5" text-anchor="start" font-weight="normal" >Cl</text>
<line x1="181.60" y1="1590.60" x2="204.30" y2="1590.60" stroke="#1a1718" stroke-width="2.25" stroke-linecap="butt"/>
<text x="269.37" y="1601.95" font-size="29.5" text-anchor="start" font-weight="normal" >F</text>
<line x1="245.90" y1="1590.60" x2="268.20" y2="1590.60" stroke="#1a1718" stroke-width="2.25" stroke-linecap="butt"/>
<line x1="244.20" y1="1550.90" x2="206.60" y2="1629.60" stroke="#1a1718" stroke-width="2.25" stroke-linecap="butt"/>
<text x="189.27" y="1658.15" font-size="29.5" text-anchor="start" font-weight="normal" >F</text>
<line x1="245.20" y1="1610.90" x2="269.39" y2="1624.79" stroke="#1a1718" stroke-width="2.2" stroke-linecap="butt"/>
<path d="M286.30,1634.50L260.79,1628.73L268.52,1624.29L268.45,1615.37Z" fill="#1a1718"/>
<circle cx="460.4" cy="1585.4" r="19.6" fill="none" stroke="#1a1718" stroke-width="2.25"/>
<text x="408.86" y="1546.80" font-size="27.3" text-anchor="start" font-weight="normal" >HO</text>
<text x="394.03" y="1596.66" font-size="27.3" text-anchor="start" font-weight="normal" >Cl</text>
<line x1="421.10" y1="1585.80" x2="441.20" y2="1585.80" stroke="#1a1718" stroke-width="2.25" stroke-linecap="butt"/>
<text x="499.09" y="1596.09" font-size="27.3" text-anchor="start" font-weight="normal" >F</text>
<line x1="479.60" y1="1585.80" x2="498.70" y2="1585.80" stroke="#1a1718" stroke-width="2.25" stroke-linecap="butt"/>
<line x1="443.70" y1="1550.90" x2="476.50" y2="1620.70" stroke="#1a1718" stroke-width="2.25" stroke-linecap="butt"/>
<text x="470.99" y="1646.39" font-size="27.3" text-anchor="start" font-weight="normal" >F</text>
<line x1="444.30" y1="1609.00" x2="418.93" y2="1653.65" stroke="#1a1718" stroke-width="2.2" stroke-linecap="butt"/>
<path d="M409.30,1670.60L414.96,1645.06L419.43,1652.78L428.35,1652.67Z" fill="#1a1718"/>
<circle cx="744" cy="1586.6" r="20.0" fill="none" stroke="#1a1718" stroke-width="2.25"/>
<text x="760.79" y="1546.19" font-size="27.3" text-anchor="start" font-weight="normal" >F</text>
<text x="676.03" y="1597.16" font-size="27.3" text-anchor="start" font-weight="normal" >Cl</text>
<line x1="703.70" y1="1586.60" x2="724.30" y2="1586.60" stroke="#1a1718" stroke-width="2.25" stroke-linecap="butt"/>
<text x="783.99" y="1597.09" font-size="27.3" text-anchor="start" font-weight="normal" >F</text>
<line x1="763.70" y1="1586.60" x2="783.20" y2="1586.60" stroke="#1a1718" stroke-width="2.25" stroke-linecap="butt"/>
<line x1="760.60" y1="1550.90" x2="726.70" y2="1622.40" stroke="#1a1718" stroke-width="2.25" stroke-linecap="butt"/>
<text x="688.16" y="1648.40" font-size="27.3" text-anchor="start" font-weight="normal" >HO</text>
<line x1="742.10" y1="1632.00" x2="718.82" y2="1710.80" stroke="#1a1718" stroke-width="2.2" stroke-linecap="butt"/>
<path d="M713.30,1729.50L713.00,1703.34L719.11,1709.84L727.77,1707.71Z" fill="#1a1718"/>
<circle cx="875.5" cy="1679.8" r="19.8" fill="none" stroke="#1a1718" stroke-width="2.25"/>
<text x="844.79" y="1639.89" font-size="27.3" text-anchor="start" font-weight="normal" >F</text>
<text x="808.03" y="1690.46" font-size="27.3" text-anchor="start" font-weight="normal" >Cl</text>
<line x1="835.90" y1="1679.90" x2="856.20" y2="1679.90" stroke="#1a1718" stroke-width="2.25" stroke-linecap="butt"/>
<text x="915.49" y="1690.09" font-size="27.3" text-anchor="start" font-weight="normal" >F</text>
<line x1="894.80" y1="1679.90" x2="914.60" y2="1679.90" stroke="#1a1718" stroke-width="2.25" stroke-linecap="butt"/>
<line x1="858.20" y1="1644.10" x2="892.70" y2="1715.90" stroke="#1a1718" stroke-width="2.25" stroke-linecap="butt"/>
<text x="892.89" y="1742.10" font-size="27.3" text-anchor="start" font-weight="normal" >OH</text>
<line x1="860.30" y1="1705.60" x2="822.49" y2="1747.35" stroke="#1a1718" stroke-width="2.2" stroke-linecap="butt"/>
<path d="M809.40,1761.80L820.48,1738.10L823.16,1746.61L831.89,1748.44Z" fill="#1a1718"/>
<path d="M558.80,1659.43L606.80,1659.43L630.80,1701.00L606.80,1742.57L558.80,1742.57L534.80,1701.00Z" fill="none" stroke="#1a1718" stroke-width="2.3" stroke-linejoin="round"/>
<line x1="544.88" y1="1700.13" x2="563.09" y2="1668.60" stroke="#1a1718" stroke-width="2.3" stroke-linecap="butt"/>
<line x1="602.51" y1="1668.60" x2="620.72" y2="1700.13" stroke="#1a1718" stroke-width="2.3" stroke-linecap="butt"/>
<line x1="601.01" y1="1734.27" x2="564.59" y2="1734.27" stroke="#1a1718" stroke-width="2.3" stroke-linecap="butt"/>
<line x1="558.80" y1="1659.43" x2="535.60" y2="1618.00" stroke="#1a1718" stroke-width="2.3" stroke-linecap="round"/>
<path d="M509.40,1632.70L510.08,1633.05L510.71,1633.31L511.24,1633.42L511.65,1633.32L511.93,1633.01L512.08,1632.48L512.14,1631.80L512.14,1631.04L512.15,1630.27L512.21,1629.60L512.36,1629.07L512.64,1628.75L513.05,1628.66L513.58,1628.76L514.21,1629.03L514.89,1629.38L515.57,1629.73L516.20,1629.99L516.73,1630.10L517.14,1630.00L517.42,1629.68L517.57,1629.16L517.63,1628.48L517.63,1627.72L517.64,1626.95L517.70,1626.27L517.85,1625.75L518.13,1625.43L518.54,1625.33L519.07,1625.44L519.70,1625.71L520.38,1626.06L521.06,1626.40L521.69,1626.67L522.22,1626.78L522.63,1626.68L522.91,1626.36L523.06,1625.84L523.12,1625.16L523.12,1624.39L523.13,1623.63L523.19,1622.95L523.34,1622.43L523.61,1622.11L524.02,1622.01L524.56,1622.12L525.19,1622.38L525.87,1622.73L526.55,1623.08L527.18,1623.35L527.71,1623.45L528.12,1623.36L528.40,1623.04L528.55,1622.52L528.60,1621.84L528.61,1621.07L528.62,1620.31L528.67,1619.63L528.83,1619.11L529.10,1618.79L529.51,1618.69L530.05,1618.80L530.68,1619.06L531.36,1619.41L532.04,1619.76L532.66,1620.02L533.20,1620.13L533.61,1620.03L533.88,1619.72L534.04,1619.19L534.09,1618.51L534.10,1617.75L534.11,1616.99L534.16,1616.31L534.32,1615.78L534.59,1615.47L535.00,1615.37L535.54,1615.48L536.16,1615.74L536.84,1616.09L537.52,1616.44L538.15,1616.70L538.69,1616.81L539.10,1616.71L539.37,1616.39L539.53,1615.87L539.58,1615.19L539.59,1614.43L539.60,1613.66L539.65,1612.98L539.80,1612.46L540.08,1612.14L540.49,1612.05L541.02,1612.15L541.65,1612.42L542.33,1612.77L543.01,1613.12L543.64,1613.38L544.18,1613.49L544.59,1613.39L544.86,1613.07L545.01,1612.55L545.07,1611.87L545.08,1611.11L545.08,1610.34L545.14,1609.66L545.29,1609.14L545.57,1608.82L545.98,1608.72L546.51,1608.83L547.14,1609.10L547.82,1609.44L548.50,1609.79L549.13,1610.06L549.66,1610.17L550.07,1610.07L550.35,1609.75L550.50,1609.23L550.56,1608.55L550.57,1607.78L550.57,1607.02L550.63,1606.34L550.78,1605.82L551.06,1605.50L551.47,1605.40L552.00,1605.51L552.63,1605.77L553.31,1606.12L553.99,1606.47L554.62,1606.74L555.15,1606.84L555.56,1606.75L555.84,1606.43L555.99,1605.90L556.05,1605.23L556.06,1604.46L556.06,1603.70L556.12,1603.02L556.27,1602.49L556.55,1602.18L556.96,1602.08L557.49,1602.19L558.12,1602.45L558.80,1602.80" fill="none" stroke="#1a1718" stroke-width="2.4" stroke-linecap="round" stroke-linejoin="round"/>
<line x1="606.80" y1="1659.43" x2="630.10" y2="1618.00" stroke="#1a1718" stroke-width="2.3" stroke-linecap="round"/>
<path d="M605.00,1603.30L605.04,1604.06L605.12,1604.74L605.29,1605.26L605.58,1605.57L606.00,1605.65L606.53,1605.52L607.15,1605.23L607.82,1604.86L608.48,1604.49L609.10,1604.20L609.63,1604.07L610.05,1604.15L610.34,1604.46L610.51,1604.98L610.60,1605.66L610.63,1606.42L610.67,1607.19L610.75,1607.86L610.93,1608.38L611.22,1608.69L611.63,1608.77L612.16,1608.64L612.78,1608.36L613.45,1607.98L614.12,1607.61L614.74,1607.32L615.27,1607.20L615.68,1607.28L615.97,1607.59L616.15,1608.10L616.23,1608.78L616.27,1609.54L616.30,1610.31L616.39,1610.99L616.56,1611.50L616.85,1611.81L617.27,1611.89L617.80,1611.77L618.42,1611.48L619.08,1611.11L619.75,1610.73L620.37,1610.44L620.90,1610.32L621.32,1610.40L621.61,1610.71L621.78,1611.22L621.86,1611.90L621.90,1612.67L621.94,1613.43L622.02,1614.11L622.19,1614.63L622.48,1614.93L622.90,1615.02L623.43,1614.89L624.05,1614.60L624.72,1614.23L625.38,1613.85L626.00,1613.57L626.53,1613.44L626.95,1613.52L627.24,1613.83L627.41,1614.35L627.50,1615.02L627.53,1615.79L627.57,1616.55L627.65,1617.23L627.83,1617.75L628.12,1618.06L628.53,1618.14L629.06,1618.01L629.68,1617.72L630.35,1617.35L631.02,1616.98L631.64,1616.69L632.17,1616.56L632.58,1616.64L632.87,1616.95L633.05,1617.47L633.13,1618.15L633.17,1618.91L633.20,1619.68L633.29,1620.35L633.46,1620.87L633.75,1621.18L634.17,1621.26L634.70,1621.13L635.32,1620.85L635.98,1620.47L636.65,1620.10L637.27,1619.81L637.80,1619.68L638.22,1619.77L638.51,1620.07L638.68,1620.59L638.76,1621.27L638.80,1622.03L638.84,1622.80L638.92,1623.48L639.09,1623.99L639.38,1624.30L639.80,1624.38L640.33,1624.26L640.95,1623.97L641.62,1623.59L642.28,1623.22L642.90,1622.93L643.43,1622.81L643.85,1622.89L644.14,1623.20L644.31,1623.71L644.40,1624.39L644.43,1625.16L644.47,1625.92L644.55,1626.60L644.73,1627.11L645.02,1627.42L645.43,1627.50L645.96,1627.38L646.58,1627.09L647.25,1626.72L647.92,1626.34L648.54,1626.06L649.07,1625.93L649.48,1626.01L649.77,1626.32L649.95,1626.84L650.03,1627.51L650.07,1628.28L650.10,1629.04L650.19,1629.72L650.36,1630.24L650.65,1630.55L651.07,1630.63L651.60,1630.50L652.22,1630.21L652.88,1629.84L653.55,1629.47L654.17,1629.18L654.70,1629.05L655.12,1629.13L655.41,1629.44L655.58,1629.96L655.66,1630.64L655.70,1631.40" fill="none" stroke="#1a1718" stroke-width="2.4" stroke-linecap="round" stroke-linejoin="round"/>
<line x1="630.80" y1="1701.00" x2="678.90" y2="1700.80" stroke="#1a1718" stroke-width="2.3" stroke-linecap="round"/>
<path d="M678.90,1671.40L678.25,1671.80L677.70,1672.20L677.33,1672.60L677.20,1672.99L677.33,1673.39L677.70,1673.79L678.25,1674.19L678.90,1674.59L679.55,1674.99L680.10,1675.39L680.47,1675.78L680.60,1676.18L680.47,1676.58L680.10,1676.98L679.55,1677.38L678.90,1677.78L678.25,1678.18L677.70,1678.58L677.33,1678.97L677.20,1679.37L677.33,1679.77L677.70,1680.17L678.25,1680.57L678.90,1680.97L679.55,1681.37L680.10,1681.76L680.47,1682.16L680.60,1682.56L680.47,1682.96L680.10,1683.36L679.55,1683.76L678.90,1684.16L678.25,1684.55L677.70,1684.95L677.33,1685.35L677.20,1685.75L677.33,1686.15L677.70,1686.55L678.25,1686.95L678.90,1687.34L679.55,1687.74L680.10,1688.14L680.47,1688.54L680.60,1688.94L680.47,1689.34L680.10,1689.74L679.55,1690.13L678.90,1690.53L678.25,1690.93L677.70,1691.33L677.33,1691.73L677.20,1692.13L677.33,1692.53L677.70,1692.92L678.25,1693.32L678.90,1693.72L679.55,1694.12L680.10,1694.52L680.47,1694.92L680.60,1695.32L680.47,1695.72L680.10,1696.11L679.55,1696.51L678.90,1696.91L678.25,1697.31L677.70,1697.71L677.33,1698.11L677.20,1698.51L677.33,1698.90L677.70,1699.30L678.25,1699.70L678.90,1700.10L679.55,1700.50L680.10,1700.90L680.47,1701.30L680.60,1701.69L680.47,1702.09L680.10,1702.49L679.55,1702.89L678.90,1703.29L678.25,1703.69L677.70,1704.09L677.33,1704.48L677.20,1704.88L677.33,1705.28L677.70,1705.68L678.25,1706.08L678.90,1706.48L679.55,1706.88L680.10,1707.28L680.47,1707.67L680.60,1708.07L680.47,1708.47L680.10,1708.87L679.55,1709.27L678.90,1709.67L678.25,1710.07L677.70,1710.46L677.33,1710.86L677.20,1711.26L677.33,1711.66L677.70,1712.06L678.25,1712.46L678.90,1712.86L679.55,1713.25L680.10,1713.65L680.47,1714.05L680.60,1714.45L680.47,1714.85L680.10,1715.25L679.55,1715.65L678.90,1716.04L678.25,1716.44L677.70,1716.84L677.33,1717.24L677.20,1717.64L677.33,1718.04L677.70,1718.44L678.25,1718.83L678.90,1719.23L679.55,1719.63L680.10,1720.03L680.47,1720.43L680.60,1720.83L680.47,1721.23L680.10,1721.62L679.55,1722.02L678.90,1722.42L678.25,1722.82L677.70,1723.22L677.33,1723.62L677.20,1724.02L677.33,1724.42L677.70,1724.81L678.25,1725.21L678.90,1725.61L679.55,1726.01L680.10,1726.41L680.47,1726.81L680.60,1727.21L680.47,1727.60L680.10,1728.00L679.55,1728.40L678.90,1728.80" fill="none" stroke="#1a1718" stroke-width="2.4" stroke-linecap="round" stroke-linejoin="round"/>
<line x1="534.80" y1="1701.00" x2="494.70" y2="1700.80" stroke="#1a1718" stroke-width="2.3" stroke-linecap="round"/>
<text x="459.78" y="1712.79" font-size="33" text-anchor="start" font-weight="normal" >Cl</text>
<line x1="606.80" y1="1742.57" x2="621.50" y2="1767.50" stroke="#1a1718" stroke-width="2.3" stroke-linecap="round"/>
<text x="620.93" y="1795.35" font-size="33" text-anchor="start" font-weight="normal" >F</text>
<line x1="558.80" y1="1742.57" x2="534.80" y2="1784.20" stroke="#e9541f" stroke-width="2.3" stroke-linecap="round"/>
<path d="M486.70,1784.23L534.70,1784.23L558.70,1825.80L534.70,1867.37L486.70,1867.37L462.70,1825.80Z" fill="none" stroke="#1a1718" stroke-width="2.3" stroke-linejoin="round"/>
<line x1="472.78" y1="1824.93" x2="490.99" y2="1793.40" stroke="#1a1718" stroke-width="2.3" stroke-linecap="butt"/>
<line x1="530.41" y1="1793.40" x2="548.62" y2="1824.93" stroke="#1a1718" stroke-width="2.3" stroke-linecap="butt"/>
<line x1="528.91" y1="1859.07" x2="492.49" y2="1859.07" stroke="#1a1718" stroke-width="2.3" stroke-linecap="butt"/>
<line x1="486.70" y1="1784.23" x2="469.40" y2="1754.00" stroke="#1a1718" stroke-width="2.3" stroke-linecap="round"/>
<text x="453.23" y="1753.75" font-size="33" text-anchor="start" font-weight="normal" >F</text>
<line x1="558.70" y1="1825.80" x2="589.50" y2="1825.60" stroke="#1a1718" stroke-width="2.3" stroke-linecap="round"/>
<text x="594.01" y="1837.16" font-size="33" text-anchor="start" font-weight="normal" >OH</text>
<text x="519.33" y="1737.56" font-size="45" text-anchor="start" font-weight="normal" stroke="#1a1718" stroke-width="0.9" stroke-linejoin="round">*</text>
<text x="558.83" y="1778.66" font-size="45" text-anchor="start" font-weight="normal" stroke="#1a1718" stroke-width="0.9" stroke-linejoin="round">*</text>
<text x="518.83" y="1795.46" font-size="45" text-anchor="start" font-weight="normal" stroke="#1a1718" stroke-width="0.9" stroke-linejoin="round">*</text>
<text x="558.83" y="1835.96" font-size="45" text-anchor="start" font-weight="normal" stroke="#1a1718" stroke-width="0.9" stroke-linejoin="round">*</text>
<line x1="163.30" y1="2081.10" x2="207.00" y2="2093.20" stroke="#1a1718" stroke-width="2.3" stroke-linecap="round"/>
<text x="212.44" y="2108.01" font-size="32" text-anchor="start" font-weight="normal" >N</text>
<line x1="239.30" y1="2093.20" x2="283.00" y2="2081.60" stroke="#1a1718" stroke-width="2.3" stroke-linecap="round"/>
<line x1="283.00" y1="2081.60" x2="285.50" y2="2032.80" stroke="#1a1718" stroke-width="2.3" stroke-linecap="round"/>
<path d="M256.00,2031.60L256.35,2032.28L256.71,2032.85L257.08,2033.25L257.47,2033.40L257.87,2033.30L258.30,2032.96L258.73,2032.43L259.17,2031.81L259.61,2031.19L260.04,2030.66L260.46,2030.32L260.86,2030.22L261.25,2030.38L261.62,2030.77L261.98,2031.35L262.33,2032.02L262.69,2032.70L263.05,2033.27L263.42,2033.67L263.80,2033.82L264.21,2033.72L264.63,2033.38L265.06,2032.86L265.50,2032.23L265.94,2031.61L266.37,2031.09L266.79,2030.75L267.20,2030.64L267.58,2030.80L267.95,2031.19L268.31,2031.77L268.67,2032.44L269.02,2033.12L269.38,2033.70L269.75,2034.09L270.14,2034.25L270.54,2034.14L270.96,2033.80L271.39,2033.28L271.83,2032.66L272.27,2032.03L272.70,2031.51L273.13,2031.17L273.53,2031.06L273.92,2031.22L274.29,2031.61L274.65,2032.19L275.00,2032.87L275.35,2033.54L275.71,2034.12L276.08,2034.51L276.47,2034.67L276.87,2034.57L277.30,2034.22L277.73,2033.70L278.17,2033.08L278.61,2032.46L279.04,2031.93L279.46,2031.59L279.86,2031.49L280.25,2031.64L280.62,2032.04L280.98,2032.61L281.33,2033.29L281.69,2033.96L282.05,2034.54L282.42,2034.94L282.80,2035.09L283.21,2034.99L283.63,2034.65L284.06,2034.12L284.50,2033.50L284.94,2032.88L285.37,2032.35L285.79,2032.01L286.20,2031.91L286.58,2032.06L286.95,2032.46L287.31,2033.04L287.67,2033.71L288.02,2034.39L288.38,2034.96L288.75,2035.36L289.14,2035.51L289.54,2035.41L289.96,2035.07L290.39,2034.54L290.83,2033.92L291.27,2033.30L291.70,2032.78L292.13,2032.43L292.53,2032.33L292.92,2032.49L293.29,2032.88L293.65,2033.46L294.00,2034.13L294.35,2034.81L294.71,2035.39L295.08,2035.78L295.47,2035.94L295.87,2035.83L296.30,2035.49L296.73,2034.97L297.17,2034.34L297.61,2033.72L298.04,2033.20L298.46,2032.86L298.86,2032.75L299.25,2032.91L299.62,2033.30L299.98,2033.88L300.33,2034.56L300.69,2035.23L301.05,2035.81L301.42,2036.20L301.80,2036.36L302.21,2036.25L302.63,2035.91L303.06,2035.39L303.50,2034.77L303.94,2034.14L304.37,2033.62L304.79,2033.28L305.20,2033.18L305.58,2033.33L305.95,2033.73L306.31,2034.30L306.67,2034.98L307.02,2035.65L307.38,2036.23L307.75,2036.62L308.14,2036.78L308.54,2036.68L308.96,2036.34L309.39,2035.81L309.83,2035.19L310.27,2034.57L310.70,2034.04L311.13,2033.70L311.53,2033.60L311.92,2033.75L312.29,2034.15L312.65,2034.72L313.00,2035.40" fill="none" stroke="#1a1718" stroke-width="2.4" stroke-linecap="round" stroke-linejoin="round"/>
<line x1="283.00" y1="2081.60" x2="314.30" y2="2134.70" stroke="#1a1718" stroke-width="2.3" stroke-linecap="round"/>
<line x1="314.30" y1="2134.70" x2="271.40" y2="2123.40" stroke="#1a1718" stroke-width="2.3" stroke-linecap="round"/>
<text x="243.44" y="2130.01" font-size="32" text-anchor="start" font-weight="normal" >N</text>
<line x1="238.60" y1="2122.70" x2="194.90" y2="2134.70" stroke="#1a1718" stroke-width="2.3" stroke-linecap="round"/>
<line x1="194.90" y1="2134.70" x2="163.30" y2="2081.10" stroke="#1a1718" stroke-width="2.3" stroke-linecap="round"/>
<line x1="194.90" y1="2134.70" x2="194.90" y2="2163.70" stroke="#1a1718" stroke-width="2.3" stroke-linecap="round"/>
<text x="182.58" y="2194.02" font-size="32" text-anchor="start" font-weight="normal" >CH</text>
<text x="230.37" y="2200.22" font-size="23" text-anchor="start" font-weight="normal" >3</text>
<line x1="217.20" y1="2077.80" x2="208.50" y2="2052.10" stroke="#1a1718" stroke-width="2.3" stroke-linecap="round"/>
<path d="M179.50,2061.60L180.10,2062.07L180.66,2062.45L181.16,2062.66L181.58,2062.65L181.91,2062.39L182.16,2061.90L182.34,2061.25L182.49,2060.50L182.64,2059.75L182.83,2059.10L183.08,2058.61L183.41,2058.35L183.82,2058.34L184.33,2058.55L184.89,2058.93L185.49,2059.40L186.09,2059.87L186.65,2060.25L187.15,2060.46L187.57,2060.45L187.90,2060.19L188.15,2059.70L188.33,2059.05L188.48,2058.30L188.63,2057.55L188.82,2056.90L189.06,2056.41L189.39,2056.15L189.81,2056.14L190.31,2056.35L190.88,2056.73L191.48,2057.20L192.08,2057.67L192.64,2058.05L193.14,2058.26L193.56,2058.25L193.89,2057.99L194.14,2057.50L194.32,2056.85L194.47,2056.10L194.62,2055.35L194.81,2054.70L195.05,2054.21L195.38,2053.95L195.80,2053.94L196.30,2054.15L196.87,2054.53L197.47,2055.00L198.07,2055.47L198.63,2055.85L199.13,2056.06L199.55,2056.05L199.88,2055.79L200.13,2055.30L200.31,2054.65L200.46,2053.90L200.61,2053.15L200.80,2052.50L201.04,2052.01L201.37,2051.75L201.79,2051.74L202.29,2051.95L202.86,2052.33L203.46,2052.80L204.05,2053.27L204.62,2053.65L205.12,2053.86L205.54,2053.85L205.87,2053.59L206.12,2053.10L206.30,2052.45L206.45,2051.70L206.60,2050.95L206.78,2050.30L207.03,2049.81L207.36,2049.55L207.78,2049.54L208.28,2049.75L208.85,2050.13L209.44,2050.60L210.04,2051.07L210.61,2051.45L211.11,2051.66L211.53,2051.65L211.86,2051.39L212.10,2050.90L212.29,2050.25L212.44,2049.50L212.59,2048.75L212.77,2048.10L213.02,2047.61L213.35,2047.35L213.77,2047.34L214.27,2047.55L214.83,2047.93L215.43,2048.40L216.03,2048.87L216.60,2049.25L217.10,2049.46L217.52,2049.45L217.85,2049.19L218.09,2048.70L218.28,2048.05L218.43,2047.30L218.58,2046.55L218.76,2045.90L219.01,2045.41L219.34,2045.15L219.76,2045.14L220.26,2045.35L220.82,2045.73L221.42,2046.20L222.02,2046.67L222.59,2047.05L223.09,2047.26L223.51,2047.25L223.84,2046.99L224.08,2046.50L224.27,2045.85L224.42,2045.10L224.57,2044.35L224.75,2043.70L225.00,2043.21L225.33,2042.95L225.75,2042.94L226.25,2043.15L226.81,2043.53L227.41,2044.00L228.01,2044.47L228.57,2044.85L229.08,2045.06L229.49,2045.05L229.82,2044.79L230.07,2044.30L230.26,2043.65L230.41,2042.90L230.56,2042.15L230.74,2041.50L230.99,2041.01L231.32,2040.75L231.74,2040.74L232.24,2040.95L232.80,2041.33L233.40,2041.80" fill="none" stroke="#1a1718" stroke-width="2.4" stroke-linecap="round" stroke-linejoin="round"/>
<line x1="261.70" y1="2137.60" x2="271.90" y2="2161.20" stroke="#1a1718" stroke-width="2.3" stroke-linecap="round"/>
<path d="M247.50,2175.30L248.13,2175.74L248.71,2176.08L249.23,2176.26L249.65,2176.22L249.96,2175.94L250.18,2175.44L250.32,2174.77L250.43,2174.02L250.53,2173.26L250.68,2172.59L250.90,2172.10L251.21,2171.82L251.63,2171.78L252.14,2171.95L252.73,2172.30L253.36,2172.73L253.98,2173.17L254.57,2173.51L255.08,2173.69L255.50,2173.65L255.82,2173.37L256.03,2172.87L256.18,2172.21L256.28,2171.45L256.39,2170.69L256.53,2170.03L256.75,2169.53L257.06,2169.25L257.48,2169.21L258.00,2169.39L258.58,2169.73L259.21,2170.17L259.84,2170.60L260.43,2170.95L260.94,2171.12L261.36,2171.08L261.67,2170.80L261.89,2170.31L262.03,2169.64L262.14,2168.88L262.24,2168.13L262.39,2167.46L262.61,2166.96L262.92,2166.68L263.34,2166.64L263.85,2166.82L264.44,2167.16L265.07,2167.60L265.69,2168.04L266.28,2168.38L266.80,2168.56L267.21,2168.52L267.53,2168.24L267.75,2167.74L267.89,2167.07L267.99,2166.32L268.10,2165.56L268.24,2164.89L268.46,2164.40L268.78,2164.12L269.19,2164.08L269.71,2164.25L270.30,2164.60L270.92,2165.03L271.55,2165.47L272.14,2165.81L272.65,2165.99L273.07,2165.95L273.38,2165.67L273.60,2165.17L273.75,2164.51L273.85,2163.75L273.95,2162.99L274.10,2162.33L274.32,2161.83L274.63,2161.55L275.05,2161.51L275.56,2161.69L276.15,2162.03L276.78,2162.47L277.40,2162.90L277.99,2163.25L278.51,2163.42L278.92,2163.38L279.24,2163.10L279.46,2162.61L279.60,2161.94L279.71,2161.18L279.81,2160.43L279.95,2159.76L280.17,2159.26L280.49,2158.98L280.90,2158.94L281.42,2159.12L282.01,2159.46L282.63,2159.90L283.26,2160.34L283.85,2160.68L284.36,2160.86L284.78,2160.82L285.09,2160.54L285.31,2160.04L285.46,2159.37L285.56,2158.62L285.67,2157.86L285.81,2157.19L286.03,2156.70L286.34,2156.42L286.76,2156.38L287.27,2156.55L287.86,2156.90L288.49,2157.33L289.12,2157.77L289.70,2158.11L290.22,2158.29L290.64,2158.25L290.95,2157.97L291.17,2157.47L291.31,2156.81L291.42,2156.05L291.52,2155.29L291.67,2154.63L291.88,2154.13L292.20,2153.85L292.62,2153.81L293.13,2153.99L293.72,2154.33L294.34,2154.77L294.97,2155.20L295.56,2155.55L296.07,2155.72L296.49,2155.68L296.80,2155.40L297.02,2154.91L297.17,2154.24L297.27,2153.48L297.38,2152.73L297.52,2152.06L297.74,2151.56L298.05,2151.28L298.47,2151.24L298.99,2151.42L299.57,2151.76L300.20,2152.20" fill="none" stroke="#1a1718" stroke-width="2.4" stroke-linecap="round" stroke-linejoin="round"/>
<line x1="306.10" y1="2084.20" x2="366.19" y2="2101.81" stroke="#1a1718" stroke-width="2.2" stroke-linecap="butt"/>
<path d="M384.90,2107.30L358.74,2107.66L365.23,2101.53L363.08,2092.88Z" fill="#1a1718"/>
<path d="M596.80,2054.20L597.50,2054.52L598.14,2054.75L598.68,2054.84L599.09,2054.72L599.36,2054.39L599.49,2053.86L599.52,2053.17L599.50,2052.41L599.48,2051.64L599.51,2050.96L599.64,2050.43L599.91,2050.09L600.32,2049.98L600.86,2050.06L601.50,2050.29L602.20,2050.61L602.90,2050.93L603.54,2051.17L604.08,2051.25L604.49,2051.13L604.76,2050.80L604.89,2050.27L604.92,2049.58L604.90,2048.82L604.88,2048.05L604.91,2047.37L605.04,2046.84L605.31,2046.51L605.72,2046.39L606.26,2046.47L606.90,2046.71L607.60,2047.02L608.30,2047.34L608.94,2047.58L609.48,2047.66L609.89,2047.54L610.16,2047.21L610.29,2046.68L610.32,2046.00L610.30,2045.23L610.28,2044.47L610.31,2043.78L610.44,2043.25L610.71,2042.92L611.12,2042.80L611.66,2042.88L612.30,2043.12L613.00,2043.44L613.70,2043.76L614.34,2043.99L614.88,2044.07L615.29,2043.96L615.56,2043.62L615.69,2043.09L615.72,2042.41L615.70,2041.64L615.68,2040.88L615.71,2040.19L615.84,2039.66L616.11,2039.33L616.52,2039.21L617.06,2039.30L617.70,2039.53L618.40,2039.85L619.10,2040.17L619.74,2040.40L620.28,2040.49L620.69,2040.37L620.96,2040.04L621.09,2039.51L621.12,2038.82L621.10,2038.06L621.08,2037.29L621.11,2036.61L621.24,2036.08L621.51,2035.74L621.92,2035.63L622.46,2035.71L623.10,2035.94L623.80,2036.26L624.50,2036.58L625.14,2036.82L625.68,2036.90L626.09,2036.78L626.36,2036.45L626.49,2035.92L626.52,2035.23L626.50,2034.47L626.48,2033.70L626.51,2033.02L626.64,2032.49L626.91,2032.16L627.32,2032.04L627.86,2032.12L628.50,2032.36L629.20,2032.67L629.90,2032.99L630.54,2033.23L631.08,2033.31L631.49,2033.19L631.76,2032.86L631.89,2032.33L631.92,2031.65L631.90,2030.88L631.88,2030.12L631.91,2029.43L632.04,2028.90L632.31,2028.57L632.72,2028.45L633.26,2028.53L633.90,2028.77L634.60,2029.09L635.30,2029.41L635.94,2029.64L636.48,2029.72L636.89,2029.61L637.16,2029.27L637.29,2028.74L637.32,2028.06L637.30,2027.29L637.28,2026.53L637.31,2025.84L637.44,2025.31L637.71,2024.98L638.12,2024.86L638.66,2024.95L639.30,2025.18L640.00,2025.50" fill="none" stroke="#1a1718" stroke-width="2.4" stroke-linecap="round" stroke-linejoin="round"/>
<line x1="619.50" y1="2040.20" x2="631.30" y2="2060.00" stroke="#1a1718" stroke-width="2.3" stroke-linecap="round"/>
<text x="631.94" y="2086.45" font-size="29.5" text-anchor="start" font-weight="normal" >N</text>
<line x1="657.20" y1="2075.80" x2="685.70" y2="2075.80" stroke="#1a1718" stroke-width="2.3" stroke-linecap="round"/>
<line x1="685.70" y1="2075.80" x2="706.80" y2="2040.20" stroke="#1a1718" stroke-width="2.3" stroke-linecap="round"/>
<path d="M686.30,2025.50L686.31,2026.26L686.37,2026.95L686.53,2027.47L686.81,2027.79L687.22,2027.88L687.75,2027.77L688.38,2027.51L689.06,2027.16L689.74,2026.81L690.37,2026.54L690.91,2026.43L691.32,2026.53L691.60,2026.84L691.75,2027.37L691.81,2028.05L691.82,2028.81L691.84,2029.58L691.90,2030.26L692.05,2030.78L692.33,2031.10L692.74,2031.19L693.28,2031.09L693.91,2030.82L694.59,2030.47L695.27,2030.12L695.90,2029.85L696.43,2029.74L696.84,2029.84L697.12,2030.16L697.28,2030.68L697.34,2031.36L697.35,2032.12L697.36,2032.89L697.42,2033.57L697.58,2034.09L697.86,2034.41L698.27,2034.51L698.80,2034.40L699.43,2034.13L700.11,2033.78L700.79,2033.43L701.42,2033.16L701.96,2033.06L702.37,2033.15L702.65,2033.47L702.80,2033.99L702.86,2034.67L702.88,2035.44L702.89,2036.20L702.95,2036.88L703.10,2037.41L703.38,2037.72L703.79,2037.82L704.33,2037.71L704.96,2037.44L705.64,2037.09L706.32,2036.74L706.95,2036.48L707.48,2036.37L707.89,2036.46L708.17,2036.78L708.33,2037.30L708.39,2037.99L708.40,2038.75L708.41,2039.51L708.47,2040.20L708.63,2040.72L708.91,2041.04L709.32,2041.13L709.85,2041.02L710.48,2040.76L711.16,2040.41L711.84,2040.06L712.47,2039.79L713.01,2039.68L713.42,2039.78L713.70,2040.09L713.85,2040.62L713.91,2041.30L713.92,2042.06L713.94,2042.83L714.00,2043.51L714.15,2044.03L714.43,2044.35L714.84,2044.44L715.38,2044.34L716.01,2044.07L716.69,2043.72L717.37,2043.37L718.00,2043.10L718.53,2042.99L718.94,2043.09L719.22,2043.41L719.38,2043.93L719.44,2044.61L719.45,2045.38L719.46,2046.14L719.52,2046.82L719.68,2047.34L719.96,2047.66L720.37,2047.76L720.90,2047.65L721.53,2047.38L722.21,2047.03L722.89,2046.68L723.52,2046.41L724.06,2046.31L724.47,2046.40L724.75,2046.72L724.90,2047.24L724.96,2047.92L724.98,2048.69L724.99,2049.45L725.05,2050.13L725.20,2050.66L725.48,2050.97L725.89,2051.07L726.43,2050.96L727.06,2050.69L727.74,2050.34L728.42,2049.99L729.05,2049.73L729.58,2049.62L729.99,2049.71L730.27,2050.03L730.43,2050.55L730.49,2051.24L730.50,2052.00" fill="none" stroke="#1a1718" stroke-width="2.4" stroke-linecap="round" stroke-linejoin="round"/>
<line x1="685.70" y1="2075.80" x2="731.60" y2="2135.10" stroke="#1a1718" stroke-width="2.3" stroke-linecap="round"/>
<line x1="731.60" y1="2135.10" x2="701.40" y2="2122.10" stroke="#1a1718" stroke-width="2.3" stroke-linecap="round"/>
<text x="675.14" y="2126.35" font-size="29.5" text-anchor="start" font-weight="normal" >N</text>
<line x1="671.20" y1="2116.10" x2="642.10" y2="2116.10" stroke="#1a1718" stroke-width="2.3" stroke-linecap="round"/>
<line x1="642.10" y1="2116.10" x2="601.20" y2="2135.10" stroke="#1a1718" stroke-width="2.3" stroke-linecap="round"/>
<line x1="601.20" y1="2135.10" x2="631.30" y2="2091.90" stroke="#1a1718" stroke-width="2.3" stroke-linecap="round"/>
<line x1="642.10" y1="2116.10" x2="634.60" y2="2144.80" stroke="#1a1718" stroke-width="2.3" stroke-linecap="round"/>
<text x="584.04" y="2171.55" font-size="29.5" text-anchor="start" font-weight="normal" >H</text>
<text x="605.88" y="2177.50" font-size="21.5" text-anchor="start" font-weight="normal" >3</text>
<text x="618.66" y="2171.56" font-size="29.5" text-anchor="start" font-weight="normal" >C</text>
<line x1="692.10" y1="2132.90" x2="700.30" y2="2158.80" stroke="#1a1718" stroke-width="2.3" stroke-linecap="round"/>
<path d="M676.60,2169.60L677.21,2170.07L677.79,2170.44L678.30,2170.64L678.73,2170.62L679.07,2170.35L679.33,2169.86L679.52,2169.20L679.68,2168.45L679.83,2167.70L680.02,2167.04L680.28,2166.55L680.62,2166.28L681.05,2166.26L681.56,2166.46L682.14,2166.83L682.75,2167.30L683.36,2167.77L683.94,2168.14L684.45,2168.34L684.88,2168.32L685.22,2168.05L685.48,2167.56L685.67,2166.90L685.83,2166.15L685.98,2165.40L686.17,2164.74L686.43,2164.25L686.77,2163.98L687.20,2163.96L687.71,2164.16L688.29,2164.53L688.90,2165.00L689.51,2165.47L690.09,2165.84L690.60,2166.04L691.03,2166.02L691.37,2165.75L691.63,2165.26L691.82,2164.60L691.98,2163.85L692.13,2163.10L692.32,2162.44L692.58,2161.95L692.92,2161.68L693.35,2161.66L693.86,2161.86L694.44,2162.23L695.05,2162.70L695.66,2163.17L696.24,2163.54L696.75,2163.74L697.18,2163.72L697.52,2163.45L697.78,2162.96L697.97,2162.30L698.12,2161.55L698.28,2160.80L698.47,2160.14L698.73,2159.65L699.07,2159.38L699.50,2159.36L700.01,2159.56L700.59,2159.93L701.20,2160.40L701.81,2160.87L702.39,2161.24L702.90,2161.44L703.33,2161.42L703.67,2161.15L703.93,2160.66L704.12,2160.00L704.27,2159.25L704.43,2158.50L704.62,2157.84L704.88,2157.35L705.22,2157.08L705.65,2157.06L706.16,2157.26L706.74,2157.63L707.35,2158.10L707.96,2158.57L708.54,2158.94L709.05,2159.14L709.48,2159.12L709.82,2158.85L710.08,2158.36L710.27,2157.70L710.42,2156.95L710.58,2156.20L710.77,2155.54L711.03,2155.05L711.37,2154.78L711.80,2154.76L712.31,2154.96L712.89,2155.33L713.50,2155.80L714.11,2156.27L714.69,2156.64L715.20,2156.84L715.63,2156.82L715.97,2156.55L716.23,2156.06L716.42,2155.40L716.57,2154.65L716.73,2153.90L716.92,2153.24L717.18,2152.75L717.52,2152.48L717.95,2152.46L718.46,2152.66L719.04,2153.03L719.65,2153.50L720.26,2153.97L720.84,2154.34L721.35,2154.54L721.78,2154.52L722.12,2154.25L722.38,2153.76L722.57,2153.10L722.72,2152.35L722.88,2151.60L723.07,2150.94L723.33,2150.45L723.67,2150.18L724.10,2150.16L724.61,2150.36L725.19,2150.73L725.80,2151.20" fill="none" stroke="#1a1718" stroke-width="2.4" stroke-linecap="round" stroke-linejoin="round"/>
<line x1="657.20" y1="2170.60" x2="623.15" y2="2208.92" stroke="#1a1718" stroke-width="2.2" stroke-linecap="butt"/>
<path d="M610.20,2223.50L621.05,2199.70L623.82,2208.17L632.56,2209.93Z" fill="#1a1718"/>
<text x="820.20" y="2132.72" font-size="26.5" text-anchor="start" font-weight="normal" >O</text>
<line x1="847.59" y1="2158.92" x2="838.59" y2="2134.62" stroke="#1a1718" stroke-width="1.9" stroke-linecap="butt"/>
<line x1="841.21" y1="2161.28" x2="832.21" y2="2136.98" stroke="#1a1718" stroke-width="1.9" stroke-linecap="butt"/>
<text x="809.42" y="2199.72" font-size="26.5" text-anchor="start" font-weight="normal" >N</text>
<line x1="827.10" y1="2179.30" x2="844.40" y2="2160.10" stroke="#1a1718" stroke-width="1.9" stroke-linecap="round"/>
<line x1="844.40" y1="2160.10" x2="884.30" y2="2167.00" stroke="#1a1718" stroke-width="1.9" stroke-linecap="round"/>
<line x1="884.30" y1="2167.00" x2="892.50" y2="2191.60" stroke="#1a1718" stroke-width="1.9" stroke-linecap="round"/>
<line x1="878.40" y1="2170.80" x2="886.10" y2="2193.40" stroke="#1a1718" stroke-width="1.9" stroke-linecap="butt"/>
<text x="883.27" y="2215.42" font-size="26.5" text-anchor="start" font-weight="normal" >CH</text>
<text x="919.72" y="2220.83" font-size="19" text-anchor="start" font-weight="normal" >2</text>
<text x="861.57" y="2244.92" font-size="26.5" text-anchor="start" font-weight="normal" >CH</text>
<text x="898.17" y="2250.04" font-size="19" text-anchor="start" font-weight="normal" >3</text>
<line x1="836.43" y1="2230.34" x2="836.89" y2="2228.61" stroke="#1a1718" stroke-width="1.7" stroke-linecap="butt"/>
<line x1="840.59" y1="2232.07" x2="841.36" y2="2229.18" stroke="#1a1718" stroke-width="1.7" stroke-linecap="butt"/>
<line x1="844.75" y1="2233.80" x2="845.83" y2="2229.75" stroke="#1a1718" stroke-width="1.7" stroke-linecap="butt"/>
<line x1="848.91" y1="2235.53" x2="850.30" y2="2230.32" stroke="#1a1718" stroke-width="1.7" stroke-linecap="butt"/>
<line x1="853.08" y1="2237.26" x2="854.77" y2="2230.89" stroke="#1a1718" stroke-width="1.7" stroke-linecap="butt"/>
<line x1="857.24" y1="2238.99" x2="859.25" y2="2231.46" stroke="#1a1718" stroke-width="1.7" stroke-linecap="butt"/>
<line x1="824.50" y1="2206.30" x2="832.20" y2="2228.60" stroke="#1a1718" stroke-width="1.9" stroke-linecap="round"/>
<line x1="832.20" y1="2228.60" x2="806.50" y2="2258.40" stroke="#1a1718" stroke-width="1.9" stroke-linecap="round"/>
<line x1="778.30" y1="2254.50" x2="806.50" y2="2258.40" stroke="#e9541f" stroke-width="1.9" stroke-linecap="round"/>
<text x="758.62" y="2261.62" font-size="26.5" text-anchor="start" font-weight="normal" >N</text>
<line x1="753.90" y1="2214.70" x2="779.10" y2="2184.40" stroke="#1a1718" stroke-width="1.9" stroke-linecap="round"/>
<line x1="779.10" y1="2184.40" x2="807.30" y2="2189.60" stroke="#1a1718" stroke-width="1.9" stroke-linecap="round"/>
<line x1="753.90" y1="2214.70" x2="762.40" y2="2237.10" stroke="#1a1718" stroke-width="1.9" stroke-linecap="round"/>
<line x1="753.90" y1="2214.70" x2="719.30" y2="2208.80" stroke="#1a1718" stroke-width="1.9" stroke-linecap="round"/>
<path d="M721.80,2188.30L721.19,2188.46L720.66,2188.64L720.29,2188.84L720.13,2189.09L720.20,2189.37L720.47,2189.70L720.90,2190.05L721.41,2190.41L721.93,2190.78L722.36,2191.13L722.63,2191.46L722.70,2191.74L722.54,2191.99L722.17,2192.19L721.64,2192.37L721.03,2192.53L720.42,2192.69L719.89,2192.87L719.52,2193.07L719.36,2193.32L719.43,2193.60L719.70,2193.93L720.13,2194.28L720.64,2194.64L721.16,2195.01L721.59,2195.36L721.86,2195.69L721.93,2195.97L721.77,2196.22L721.40,2196.42L720.87,2196.60L720.26,2196.76L719.65,2196.92L719.12,2197.10L718.75,2197.30L718.59,2197.55L718.66,2197.83L718.93,2198.16L719.36,2198.51L719.88,2198.88L720.39,2199.24L720.82,2199.59L721.09,2199.92L721.16,2200.20L721.00,2200.45L720.63,2200.65L720.10,2200.83L719.49,2200.99L718.88,2201.15L718.35,2201.33L717.98,2201.53L717.82,2201.78L717.89,2202.06L718.16,2202.39L718.59,2202.74L719.11,2203.11L719.62,2203.47L720.05,2203.82L720.32,2204.15L720.39,2204.43L720.23,2204.68L719.86,2204.88L719.33,2205.06L718.72,2205.22L718.11,2205.38L717.58,2205.56L717.21,2205.76L717.05,2206.01L717.12,2206.29L717.39,2206.62L717.82,2206.97L718.34,2207.34L718.85,2207.70L719.28,2208.05L719.55,2208.38L719.62,2208.66L719.46,2208.91L719.09,2209.11L718.56,2209.29L717.95,2209.45L717.34,2209.61L716.81,2209.79L716.44,2209.99L716.28,2210.24L716.35,2210.52L716.62,2210.85L717.05,2211.20L717.56,2211.57L718.08,2211.93L718.51,2212.28L718.78,2212.61L718.85,2212.89L718.69,2213.14L718.32,2213.34L717.79,2213.52L717.18,2213.68L716.57,2213.84L716.04,2214.02L715.67,2214.22L715.51,2214.47L715.58,2214.75L715.85,2215.08L716.28,2215.43L716.79,2215.80L717.31,2216.16L717.74,2216.51L718.01,2216.84L718.08,2217.12L717.92,2217.37L717.55,2217.57L717.02,2217.75L716.41,2217.91L715.80,2218.07L715.27,2218.25L714.90,2218.45L714.74,2218.70L714.81,2218.98L715.08,2219.31L715.51,2219.66L716.02,2220.03L716.54,2220.39L716.97,2220.74L717.24,2221.07L717.31,2221.35L717.15,2221.60L716.78,2221.80L716.25,2221.98L715.64,2222.14L715.03,2222.30L714.50,2222.48L714.13,2222.68L713.97,2222.93L714.04,2223.21L714.31,2223.54L714.74,2223.89L715.25,2224.26L715.77,2224.62L716.20,2224.97L716.47,2225.30L716.54,2225.58L716.38,2225.83L716.01,2226.03L715.48,2226.21L714.87,2226.37L714.26,2226.53L713.73,2226.71L713.36,2226.91L713.20,2227.16L713.27,2227.44L713.54,2227.77L713.97,2228.12L714.49,2228.49L715.00,2228.85L715.43,2229.20L715.70,2229.53L715.77,2229.81L715.61,2230.06L715.24,2230.26L714.71,2230.44L714.10,2230.60" fill="none" stroke="#1a1718" stroke-width="2.1" stroke-linecap="round" stroke-linejoin="round"/>
<line x1="762.60" y1="2266.50" x2="755.70" y2="2291.00" stroke="#1a1718" stroke-width="1.9" stroke-linecap="round"/>
<line x1="755.70" y1="2291.00" x2="778.70" y2="2303.90" stroke="#1a1718" stroke-width="1.9" stroke-linecap="round"/>
<line x1="755.14" y1="2298.14" x2="772.90" y2="2308.10" stroke="#1a1718" stroke-width="1.9" stroke-linecap="butt"/>
<text x="779.72" y="2319.62" font-size="26.5" text-anchor="start" font-weight="normal" >N</text>
<line x1="788.70" y1="2321.10" x2="788.70" y2="2349.90" stroke="#1a1718" stroke-width="1.9" stroke-linecap="round"/>
<line x1="788.70" y1="2349.90" x2="769.20" y2="2361.40" stroke="#1a1718" stroke-width="1.9" stroke-linecap="round"/>
<line x1="782.81" y1="2345.83" x2="768.48" y2="2354.28" stroke="#1a1718" stroke-width="1.9" stroke-linecap="butt"/>
<text x="745.22" y="2379.12" font-size="26.5" text-anchor="start" font-weight="normal" >N</text>
<line x1="743.30" y1="2362.20" x2="721.20" y2="2349.90" stroke="#1a1718" stroke-width="1.9" stroke-linecap="round"/>
<line x1="721.20" y1="2349.90" x2="721.20" y2="2309.70" stroke="#1a1718" stroke-width="1.9" stroke-linecap="round"/>
<line x1="728.20" y1="2345.40" x2="728.20" y2="2314.20" stroke="#1a1718" stroke-width="1.9" stroke-linecap="butt"/>
<line x1="721.20" y1="2309.70" x2="755.70" y2="2291.00" stroke="#1a1718" stroke-width="1.9" stroke-linecap="round"/>
<line x1="721.20" y1="2309.70" x2="687.80" y2="2292.40" stroke="#1a1718" stroke-width="1.9" stroke-linecap="round"/>
<path d="M697.30,2272.90L696.67,2272.88L696.12,2272.90L695.71,2272.99L695.49,2273.17L695.47,2273.46L695.65,2273.84L695.97,2274.29L696.37,2274.78L696.76,2275.27L697.08,2275.72L697.26,2276.10L697.24,2276.39L697.02,2276.57L696.61,2276.66L696.06,2276.68L695.43,2276.66L694.80,2276.64L694.25,2276.66L693.84,2276.75L693.62,2276.93L693.60,2277.22L693.78,2277.60L694.10,2278.05L694.50,2278.54L694.89,2279.03L695.21,2279.48L695.39,2279.86L695.37,2280.15L695.15,2280.33L694.74,2280.42L694.19,2280.44L693.56,2280.42L692.93,2280.40L692.38,2280.42L691.97,2280.51L691.75,2280.69L691.73,2280.98L691.91,2281.36L692.23,2281.81L692.62,2282.30L693.02,2282.79L693.34,2283.24L693.52,2283.62L693.50,2283.91L693.28,2284.09L692.87,2284.18L692.32,2284.20L691.69,2284.18L691.06,2284.16L690.51,2284.18L690.10,2284.27L689.88,2284.45L689.86,2284.74L690.04,2285.12L690.36,2285.57L690.75,2286.06L691.15,2286.55L691.47,2287.00L691.65,2287.38L691.63,2287.67L691.41,2287.85L691.00,2287.94L690.45,2287.96L689.82,2287.94L689.19,2287.92L688.64,2287.94L688.23,2288.03L688.01,2288.21L687.99,2288.50L688.17,2288.88L688.49,2289.33L688.88,2289.82L689.28,2290.31L689.60,2290.76L689.78,2291.14L689.76,2291.43L689.54,2291.61L689.13,2291.70L688.58,2291.72L687.95,2291.70L687.32,2291.68L686.77,2291.70L686.36,2291.79L686.14,2291.97L686.12,2292.26L686.30,2292.64L686.62,2293.09L687.01,2293.58L687.41,2294.07L687.73,2294.52L687.91,2294.90L687.89,2295.19L687.67,2295.37L687.26,2295.46L686.71,2295.48L686.08,2295.46L685.45,2295.44L684.90,2295.46L684.49,2295.55L684.27,2295.73L684.25,2296.02L684.43,2296.40L684.75,2296.85L685.14,2297.34L685.54,2297.83L685.86,2298.28L686.04,2298.66L686.02,2298.95L685.80,2299.13L685.39,2299.22L684.84,2299.24L684.21,2299.22L683.58,2299.20L683.03,2299.22L682.62,2299.31L682.40,2299.49L682.38,2299.78L682.56,2300.16L682.88,2300.61L683.27,2301.10L683.67,2301.59L683.99,2302.04L684.17,2302.42L684.15,2302.71L683.93,2302.89L683.52,2302.98L682.97,2303.00L682.34,2302.98L681.71,2302.96L681.16,2302.98L680.75,2303.07L680.53,2303.25L680.51,2303.54L680.69,2303.92L681.01,2304.37L681.40,2304.86L681.80,2305.35L682.12,2305.80L682.30,2306.18L682.28,2306.47L682.06,2306.65L681.65,2306.74L681.10,2306.76L680.47,2306.74L679.84,2306.72L679.29,2306.74L678.88,2306.83L678.66,2307.01L678.64,2307.30L678.82,2307.68L679.14,2308.13L679.53,2308.62L679.93,2309.11L680.25,2309.56L680.43,2309.94L680.41,2310.23L680.19,2310.41L679.78,2310.50L679.23,2310.52L678.60,2310.50" fill="none" stroke="#1a1718" stroke-width="2.1" stroke-linecap="round" stroke-linejoin="round"/>
<line x1="721.20" y1="2349.90" x2="688.70" y2="2368.00" stroke="#1a1718" stroke-width="1.9" stroke-linecap="round"/>
<path d="M678.60,2349.90L678.24,2350.42L677.96,2350.90L677.82,2351.29L677.85,2351.57L678.09,2351.74L678.50,2351.79L679.05,2351.77L679.68,2351.70L680.31,2351.62L680.86,2351.60L681.27,2351.65L681.51,2351.82L681.54,2352.10L681.40,2352.49L681.12,2352.97L680.76,2353.49L680.40,2354.01L680.12,2354.49L679.98,2354.88L680.01,2355.16L680.25,2355.33L680.66,2355.38L681.21,2355.36L681.84,2355.29L682.47,2355.21L683.02,2355.19L683.43,2355.24L683.67,2355.41L683.70,2355.69L683.56,2356.08L683.28,2356.56L682.92,2357.08L682.56,2357.60L682.28,2358.08L682.14,2358.47L682.17,2358.75L682.41,2358.92L682.82,2358.97L683.37,2358.95L684.00,2358.88L684.63,2358.80L685.18,2358.78L685.59,2358.83L685.83,2359.00L685.86,2359.28L685.72,2359.67L685.44,2360.15L685.08,2360.67L684.72,2361.19L684.44,2361.67L684.30,2362.06L684.33,2362.34L684.57,2362.51L684.98,2362.56L685.53,2362.54L686.16,2362.47L686.79,2362.39L687.34,2362.37L687.75,2362.42L687.99,2362.59L688.02,2362.87L687.88,2363.26L687.60,2363.74L687.24,2364.26L686.88,2364.78L686.60,2365.26L686.46,2365.65L686.49,2365.93L686.73,2366.10L687.14,2366.15L687.69,2366.13L688.32,2366.06L688.95,2365.98L689.50,2365.96L689.91,2366.01L690.15,2366.18L690.18,2366.46L690.04,2366.85L689.76,2367.33L689.40,2367.85L689.04,2368.37L688.76,2368.85L688.62,2369.24L688.65,2369.52L688.89,2369.69L689.30,2369.74L689.85,2369.72L690.48,2369.64L691.11,2369.57L691.66,2369.55L692.07,2369.60L692.31,2369.77L692.34,2370.05L692.20,2370.44L691.92,2370.92L691.56,2371.44L691.20,2371.96L690.92,2372.44L690.78,2372.83L690.81,2373.11L691.05,2373.28L691.46,2373.33L692.01,2373.31L692.64,2373.24L693.27,2373.16L693.82,2373.14L694.23,2373.19L694.47,2373.36L694.50,2373.64L694.36,2374.03L694.08,2374.51L693.72,2375.03L693.36,2375.55L693.08,2376.03L692.94,2376.42L692.97,2376.70L693.21,2376.87L693.62,2376.92L694.17,2376.90L694.80,2376.83L695.43,2376.75L695.98,2376.73L696.39,2376.78L696.63,2376.95L696.66,2377.23L696.52,2377.62L696.24,2378.10L695.88,2378.62L695.52,2379.14L695.24,2379.62L695.10,2380.01L695.13,2380.29L695.37,2380.46L695.78,2380.51L696.33,2380.49L696.96,2380.41L697.59,2380.34L698.14,2380.32L698.55,2380.37L698.79,2380.54L698.82,2380.82L698.68,2381.21L698.40,2381.69L698.04,2382.21L697.68,2382.73L697.40,2383.21L697.26,2383.60L697.29,2383.88L697.53,2384.05L697.94,2384.10L698.49,2384.08L699.12,2384.01L699.75,2383.93L700.30,2383.91L700.71,2383.96L700.95,2384.13L700.98,2384.41L700.84,2384.80L700.56,2385.28L700.20,2385.80" fill="none" stroke="#1a1718" stroke-width="2.1" stroke-linecap="round" stroke-linejoin="round"/>
<text x="813.49" y="2245.90" font-size="36.5" text-anchor="start" font-weight="normal" stroke="#1a1718" stroke-width="0.5" stroke-linejoin="round">*</text>
<text x="795.59" y="2266.90" font-size="36.5" text-anchor="start" font-weight="normal" stroke="#1a1718" stroke-width="0.5" stroke-linejoin="round">*</text>
<text x="742.99" y="2272.00" font-size="36.5" text-anchor="start" font-weight="normal" stroke="#1a1718" stroke-width="0.5" stroke-linejoin="round">*</text>
<text x="738.59" y="2302.80" font-size="36.5" text-anchor="start" font-weight="normal" stroke="#1a1718" stroke-width="0.5" stroke-linejoin="round">*</text>
</svg>
</body></html>
